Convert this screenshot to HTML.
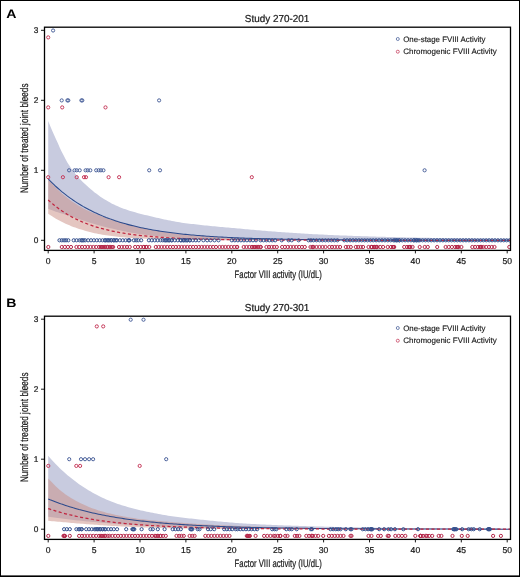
<!DOCTYPE html>
<html><head><meta charset="utf-8"><style>html,body{margin:0;padding:0;background:#fff;}svg{display:block;will-change:transform;}</style></head>
<body><svg width="520" height="577" viewBox="0 0 520 577" font-family='"Liberation Sans", sans-serif' style="text-rendering:geometricPrecision">
<style>.qb{fill:none;stroke:#34508e;stroke-width:1.0px}.qr{fill:none;stroke:#b52a4c;stroke-width:1.0px}.pb{fill:none;stroke:#465d98;stroke-width:0.95px}.pr{fill:none;stroke:#c43556;stroke-width:0.95px}.tl{fill:#1a1a1a;stroke:#1a1a1a;stroke-width:0.14px}.t{fill:#1a1a1a;stroke:#1a1a1a;stroke-width:0.22px}</style>
<rect x="0" y="0" width="520" height="577" fill="#fff"/>
<clipPath id="clipA"><rect x="44.5" y="27.2" width="466.0" height="223.20000000000002"/></clipPath>
<g clip-path="url(#clipA)">
<path d="M48.2,121.00 L50.1,125.81 L52.1,130.40 L54.0,134.75 L55.9,138.98 L57.9,143.31 L59.8,147.66 L61.7,151.67 L63.7,155.39 L65.6,159.14 L67.5,162.70 L69.5,165.82 L71.4,168.70 L73.3,171.39 L75.3,173.83 L77.2,176.04 L79.1,178.16 L81.1,180.20 L83.0,182.16 L85.0,184.05 L86.9,185.87 L88.8,187.60 L90.8,189.26 L92.7,190.85 L94.6,192.39 L96.6,193.87 L98.5,195.29 L100.4,196.64 L102.4,197.94 L104.3,199.18 L106.2,200.37 L108.2,201.51 L110.1,202.60 L112.0,203.64 L114.0,204.60 L115.9,205.51 L117.8,206.37 L119.8,207.19 L121.7,207.97 L123.6,208.69 L125.6,209.37 L127.5,210.01 L129.4,210.63 L131.4,211.24 L133.3,211.82 L135.2,212.37 L137.2,212.90 L139.1,213.41 L141.0,213.91 L143.0,214.40 L144.9,214.88 L146.8,215.35 L148.8,215.82 L150.7,216.28 L152.7,216.74 L154.6,217.20 L156.5,217.66 L158.5,218.11 L160.4,218.55 L162.3,218.98 L164.3,219.40 L166.2,219.82 L168.1,220.22 L170.1,220.60 L172.0,220.98 L173.9,221.34 L175.9,221.69 L177.8,222.02 L179.7,222.34 L181.7,222.64 L183.6,222.92 L185.5,223.18 L187.5,223.43 L189.4,223.67 L191.3,223.90 L193.3,224.12 L195.2,224.34 L197.1,224.56 L199.1,224.77 L201.0,224.99 L202.9,225.20 L204.9,225.40 L206.8,225.60 L208.7,225.80 L210.7,225.99 L212.6,226.17 L214.6,226.35 L216.5,226.53 L218.4,226.71 L220.4,226.89 L222.3,227.06 L224.2,227.23 L226.2,227.41 L228.1,227.58 L230.0,227.75 L232.0,227.92 L233.9,228.09 L235.8,228.27 L237.8,228.44 L239.7,228.61 L241.6,228.79 L243.6,228.97 L245.5,229.14 L247.4,229.31 L249.4,229.49 L251.3,229.66 L253.2,229.83 L255.2,230.00 L257.1,230.16 L259.0,230.33 L261.0,230.49 L262.9,230.66 L264.8,230.82 L266.8,230.97 L268.7,231.13 L270.6,231.29 L272.6,231.44 L274.5,231.59 L276.4,231.74 L278.4,231.88 L280.3,232.03 L282.3,232.17 L284.2,232.31 L286.1,232.45 L288.1,232.58 L290.0,232.72 L291.9,232.85 L293.9,232.97 L295.8,233.10 L297.7,233.22 L299.7,233.35 L301.6,233.46 L303.5,233.58 L305.5,233.69 L307.4,233.81 L309.3,233.92 L311.3,234.02 L313.2,234.13 L315.1,234.23 L317.1,234.33 L319.0,234.43 L320.9,234.52 L322.9,234.62 L324.8,234.71 L326.7,234.80 L328.7,234.89 L330.6,234.97 L332.5,235.06 L334.5,235.14 L336.4,235.22 L338.3,235.30 L340.3,235.38 L342.2,235.46 L344.1,235.54 L346.1,235.61 L348.0,235.68 L350.0,235.76 L351.9,235.83 L353.8,235.90 L355.8,235.97 L357.7,236.03 L359.6,236.10 L361.6,236.17 L363.5,236.23 L365.4,236.29 L367.4,236.36 L369.3,236.42 L371.2,236.48 L373.2,236.54 L375.1,236.59 L377.0,236.65 L379.0,236.71 L380.9,236.76 L382.8,236.81 L384.8,236.87 L386.7,236.92 L388.6,236.97 L390.6,237.02 L392.5,237.07 L394.4,237.12 L396.4,237.17 L398.3,237.21 L400.2,237.26 L402.2,237.31 L404.1,237.35 L406.0,237.40 L408.0,237.44 L409.9,237.48 L411.9,237.52 L413.8,237.56 L415.7,237.60 L417.7,237.64 L419.6,237.68 L421.5,237.72 L423.5,237.76 L425.4,237.80 L427.3,237.84 L429.3,237.87 L431.2,237.91 L433.1,237.95 L435.1,237.98 L437.0,238.02 L438.9,238.06 L440.9,238.09 L442.8,238.12 L444.7,238.16 L446.7,238.19 L448.6,238.22 L450.5,238.25 L452.5,238.29 L454.4,238.32 L456.3,238.35 L458.3,238.38 L460.2,238.41 L462.1,238.44 L464.1,238.46 L466.0,238.49 L467.9,238.52 L469.9,238.55 L471.8,238.57 L473.7,238.60 L475.7,238.63 L477.6,238.65 L479.6,238.68 L481.5,238.70 L483.4,238.73 L485.4,238.75 L487.3,238.78 L489.2,238.80 L491.2,238.82 L493.1,238.84 L495.0,238.87 L497.0,238.89 L498.9,238.91 L500.8,238.93 L502.8,238.95 L504.7,238.97 L506.6,238.99 L508.6,239.01 L510.5,239.03 L510.5,240.30 L508.6,240.30 L506.6,240.30 L504.7,240.30 L502.8,240.30 L500.8,240.30 L498.9,240.30 L497.0,240.30 L495.0,240.30 L493.1,240.30 L491.2,240.30 L489.2,240.30 L487.3,240.30 L485.4,240.30 L483.4,240.30 L481.5,240.30 L479.6,240.30 L477.6,240.30 L475.7,240.30 L473.7,240.30 L471.8,240.30 L469.9,240.30 L467.9,240.30 L466.0,240.30 L464.1,240.30 L462.1,240.30 L460.2,240.30 L458.3,240.30 L456.3,240.30 L454.4,240.30 L452.5,240.30 L450.5,240.30 L448.6,240.30 L446.7,240.30 L444.7,240.30 L442.8,240.30 L440.9,240.30 L438.9,240.30 L437.0,240.30 L435.1,240.30 L433.1,240.30 L431.2,240.30 L429.3,240.30 L427.3,240.30 L425.4,240.30 L423.5,240.30 L421.5,240.30 L419.6,240.30 L417.7,240.30 L415.7,240.29 L413.8,240.29 L411.9,240.29 L409.9,240.29 L408.0,240.29 L406.0,240.29 L404.1,240.29 L402.2,240.29 L400.2,240.29 L398.3,240.29 L396.4,240.29 L394.4,240.29 L392.5,240.29 L390.6,240.29 L388.6,240.29 L386.7,240.29 L384.8,240.29 L382.8,240.29 L380.9,240.29 L379.0,240.29 L377.0,240.29 L375.1,240.28 L373.2,240.28 L371.2,240.28 L369.3,240.28 L367.4,240.28 L365.4,240.28 L363.5,240.28 L361.6,240.28 L359.6,240.28 L357.7,240.28 L355.8,240.28 L353.8,240.27 L351.9,240.27 L350.0,240.27 L348.0,240.27 L346.1,240.27 L344.1,240.27 L342.2,240.26 L340.3,240.26 L338.3,240.26 L336.4,240.26 L334.5,240.26 L332.5,240.25 L330.6,240.25 L328.7,240.25 L326.7,240.25 L324.8,240.24 L322.9,240.24 L320.9,240.24 L319.0,240.24 L317.1,240.23 L315.1,240.23 L313.2,240.23 L311.3,240.22 L309.3,240.22 L307.4,240.21 L305.5,240.21 L303.5,240.20 L301.6,240.20 L299.7,240.20 L297.7,240.19 L295.8,240.18 L293.9,240.18 L291.9,240.17 L290.0,240.17 L288.1,240.16 L286.1,240.15 L284.2,240.15 L282.3,240.14 L280.3,240.13 L278.4,240.12 L276.4,240.11 L274.5,240.10 L272.6,240.09 L270.6,240.08 L268.7,240.07 L266.8,240.06 L264.8,240.05 L262.9,240.04 L261.0,240.02 L259.0,240.01 L257.1,239.99 L255.2,239.98 L253.2,239.96 L251.3,239.95 L249.4,239.93 L247.4,239.91 L245.5,239.89 L243.6,239.87 L241.6,239.84 L239.7,239.82 L237.8,239.80 L235.8,239.77 L233.9,239.74 L232.0,239.71 L230.0,239.68 L228.1,239.65 L226.2,239.61 L224.2,239.58 L222.3,239.54 L220.4,239.49 L218.4,239.45 L216.5,239.40 L214.6,239.36 L212.6,239.31 L210.7,239.25 L208.7,239.19 L206.8,239.14 L204.9,239.07 L202.9,239.01 L201.0,238.94 L199.1,238.87 L197.1,238.79 L195.2,238.71 L193.3,238.62 L191.3,238.53 L189.4,238.44 L187.5,238.34 L185.5,238.24 L183.6,238.13 L181.7,238.02 L179.7,237.91 L177.8,237.79 L175.9,237.67 L173.9,237.54 L172.0,237.41 L170.1,237.27 L168.1,237.12 L166.2,236.97 L164.3,236.82 L162.3,236.65 L160.4,236.48 L158.5,236.31 L156.5,236.12 L154.6,235.92 L152.7,235.72 L150.7,235.50 L148.8,235.27 L146.8,235.03 L144.9,234.78 L143.0,234.51 L141.0,234.23 L139.1,233.94 L137.2,233.63 L135.2,233.31 L133.3,232.98 L131.4,232.64 L129.4,232.29 L127.5,231.92 L125.6,231.54 L123.6,231.14 L121.7,230.74 L119.8,230.33 L117.8,229.91 L115.9,229.47 L114.0,229.03 L112.0,228.58 L110.1,228.13 L108.2,227.67 L106.2,227.20 L104.3,226.71 L102.4,226.21 L100.4,225.70 L98.5,225.17 L96.6,224.64 L94.6,224.09 L92.7,223.53 L90.8,222.95 L88.8,222.35 L86.9,221.74 L85.0,221.12 L83.0,220.48 L81.1,219.83 L79.1,219.15 L77.2,218.46 L75.3,217.75 L73.3,217.07 L71.4,216.42 L69.5,215.78 L67.5,215.17 L65.6,214.64 L63.7,214.11 L61.7,213.50 L59.8,212.92 L57.9,212.37 L55.9,211.74 L54.0,211.02 L52.1,210.27 L50.1,209.52 L48.2,208.75 Z" fill="#c8cbdf"/>
<path d="M48.2,178.99 L50.1,181.37 L52.1,183.63 L54.0,185.77 L55.9,187.80 L57.9,189.73 L59.8,191.57 L61.7,193.32 L63.7,194.99 L65.6,196.58 L67.5,198.10 L69.5,199.55 L71.4,200.94 L73.3,202.28 L75.3,203.55 L77.2,204.78 L79.1,205.96 L81.1,207.09 L83.0,208.19 L85.0,209.23 L86.9,210.21 L88.8,211.11 L90.8,211.97 L92.7,212.78 L94.6,213.57 L96.6,214.33 L98.5,215.08 L100.4,215.83 L102.4,216.55 L104.3,217.26 L106.2,217.94 L108.2,218.60 L110.1,219.24 L112.0,219.86 L114.0,220.47 L115.9,221.07 L117.8,221.65 L119.8,222.22 L121.7,222.78 L123.6,223.32 L125.6,223.86 L127.5,224.39 L129.4,224.90 L131.4,225.40 L133.3,225.88 L135.2,226.35 L137.2,226.81 L139.1,227.26 L141.0,227.69 L143.0,228.12 L144.9,228.53 L146.8,228.93 L148.8,229.32 L150.7,229.69 L152.7,230.05 L154.6,230.39 L156.5,230.72 L158.5,231.04 L160.4,231.34 L162.3,231.64 L164.3,231.93 L166.2,232.21 L168.1,232.48 L170.1,232.74 L172.0,232.99 L173.9,233.23 L175.9,233.47 L177.8,233.70 L179.7,233.92 L181.7,234.13 L183.6,234.33 L185.5,234.53 L187.5,234.73 L189.4,234.91 L191.3,235.09 L193.3,235.26 L195.2,235.43 L197.1,235.59 L199.1,235.75 L201.0,235.90 L202.9,236.05 L204.9,236.19 L206.8,236.33 L208.7,236.46 L210.7,236.59 L212.6,236.71 L214.6,236.83 L216.5,236.95 L218.4,237.06 L220.4,237.16 L222.3,237.27 L224.2,237.37 L226.2,237.47 L228.1,237.56 L230.0,237.65 L232.0,237.74 L233.9,237.83 L235.8,237.91 L237.8,237.99 L239.7,238.07 L241.6,238.14 L243.6,238.21 L245.5,238.28 L247.4,238.35 L249.4,238.41 L251.3,238.48 L253.2,238.54 L255.2,238.60 L257.1,238.65 L259.0,238.71 L261.0,238.76 L262.9,238.81 L264.8,238.86 L266.8,238.91 L268.7,238.96 L270.6,239.00 L272.6,239.04 L274.5,239.09 L276.4,239.13 L278.4,239.16 L280.3,239.20 L282.3,239.24 L284.2,239.27 L286.1,239.31 L288.1,239.34 L290.0,239.37 L291.9,239.40 L293.9,239.43 L295.8,239.46 L297.7,239.49 L299.7,239.52 L301.6,239.54 L303.5,239.57 L305.5,239.59 L307.4,239.62 L309.3,239.64 L311.3,239.66 L313.2,239.68 L315.1,239.70 L317.1,239.72 L319.0,239.74 L320.9,239.76 L322.9,239.78 L324.8,239.80 L326.7,239.81 L328.7,239.83 L330.6,239.84 L332.5,239.86 L334.5,239.87 L336.4,239.89 L338.3,239.90 L340.3,239.92 L342.2,239.93 L344.1,239.94 L346.1,239.95 L348.0,239.96 L350.0,239.98 L351.9,239.99 L353.8,240.00 L355.8,240.01 L357.7,240.02 L359.6,240.03 L361.6,240.04 L363.5,240.04 L365.4,240.05 L367.4,240.06 L369.3,240.07 L371.2,240.08 L373.2,240.08 L375.1,240.09 L377.0,240.10 L379.0,240.10 L380.9,240.11 L382.8,240.12 L384.8,240.12 L386.7,240.13 L388.6,240.14 L390.6,240.14 L392.5,240.15 L394.4,240.15 L396.4,240.16 L398.3,240.16 L400.2,240.17 L402.2,240.17 L404.1,240.17 L406.0,240.18 L408.0,240.18 L409.9,240.19 L411.9,240.19 L413.8,240.19 L415.7,240.20 L417.7,240.20 L419.6,240.20 L421.5,240.21 L423.5,240.21 L425.4,240.21 L427.3,240.22 L429.3,240.22 L431.2,240.22 L433.1,240.22 L435.1,240.23 L437.0,240.23 L438.9,240.23 L440.9,240.23 L442.8,240.24 L444.7,240.24 L446.7,240.24 L448.6,240.24 L450.5,240.24 L452.5,240.25 L454.4,240.25 L456.3,240.25 L458.3,240.25 L460.2,240.25 L462.1,240.25 L464.1,240.26 L466.0,240.26 L467.9,240.26 L469.9,240.26 L471.8,240.26 L473.7,240.26 L475.7,240.26 L477.6,240.27 L479.6,240.27 L481.5,240.27 L483.4,240.27 L485.4,240.27 L487.3,240.27 L489.2,240.27 L491.2,240.27 L493.1,240.27 L495.0,240.27 L497.0,240.28 L498.9,240.28 L500.8,240.28 L502.8,240.28 L504.7,240.28 L506.6,240.28 L508.6,240.28 L510.5,240.28 L510.5,240.30 L508.6,240.30 L506.6,240.30 L504.7,240.30 L502.8,240.30 L500.8,240.30 L498.9,240.30 L497.0,240.30 L495.0,240.30 L493.1,240.30 L491.2,240.30 L489.2,240.30 L487.3,240.30 L485.4,240.30 L483.4,240.30 L481.5,240.30 L479.6,240.30 L477.6,240.30 L475.7,240.30 L473.7,240.30 L471.8,240.30 L469.9,240.30 L467.9,240.30 L466.0,240.30 L464.1,240.30 L462.1,240.30 L460.2,240.30 L458.3,240.30 L456.3,240.30 L454.4,240.30 L452.5,240.30 L450.5,240.30 L448.6,240.30 L446.7,240.30 L444.7,240.30 L442.8,240.30 L440.9,240.30 L438.9,240.30 L437.0,240.30 L435.1,240.30 L433.1,240.30 L431.2,240.30 L429.3,240.30 L427.3,240.30 L425.4,240.30 L423.5,240.30 L421.5,240.30 L419.6,240.30 L417.7,240.30 L415.7,240.30 L413.8,240.30 L411.9,240.30 L409.9,240.30 L408.0,240.30 L406.0,240.30 L404.1,240.30 L402.2,240.30 L400.2,240.30 L398.3,240.30 L396.4,240.30 L394.4,240.30 L392.5,240.30 L390.6,240.30 L388.6,240.30 L386.7,240.30 L384.8,240.30 L382.8,240.30 L380.9,240.30 L379.0,240.30 L377.0,240.30 L375.1,240.30 L373.2,240.30 L371.2,240.30 L369.3,240.30 L367.4,240.30 L365.4,240.30 L363.5,240.30 L361.6,240.30 L359.6,240.30 L357.7,240.30 L355.8,240.30 L353.8,240.30 L351.9,240.30 L350.0,240.30 L348.0,240.30 L346.1,240.29 L344.1,240.29 L342.2,240.29 L340.3,240.29 L338.3,240.29 L336.4,240.29 L334.5,240.29 L332.5,240.29 L330.6,240.29 L328.7,240.29 L326.7,240.29 L324.8,240.29 L322.9,240.29 L320.9,240.29 L319.0,240.29 L317.1,240.29 L315.1,240.29 L313.2,240.29 L311.3,240.29 L309.3,240.29 L307.4,240.28 L305.5,240.28 L303.5,240.28 L301.6,240.28 L299.7,240.28 L297.7,240.28 L295.8,240.28 L293.9,240.28 L291.9,240.28 L290.0,240.27 L288.1,240.27 L286.1,240.27 L284.2,240.27 L282.3,240.27 L280.3,240.27 L278.4,240.26 L276.4,240.26 L274.5,240.26 L272.6,240.26 L270.6,240.26 L268.7,240.25 L266.8,240.25 L264.8,240.25 L262.9,240.24 L261.0,240.24 L259.0,240.24 L257.1,240.23 L255.2,240.23 L253.2,240.23 L251.3,240.22 L249.4,240.22 L247.4,240.21 L245.5,240.21 L243.6,240.20 L241.6,240.20 L239.7,240.19 L237.8,240.19 L235.8,240.18 L233.9,240.17 L232.0,240.16 L230.0,240.16 L228.1,240.15 L226.2,240.14 L224.2,240.13 L222.3,240.12 L220.4,240.11 L218.4,240.10 L216.5,240.09 L214.6,240.08 L212.6,240.07 L210.7,240.05 L208.7,240.04 L206.8,240.02 L204.9,240.01 L202.9,239.99 L201.0,239.97 L199.1,239.96 L197.1,239.94 L195.2,239.91 L193.3,239.89 L191.3,239.87 L189.4,239.85 L187.5,239.82 L185.5,239.79 L183.6,239.76 L181.7,239.73 L179.7,239.70 L177.8,239.67 L175.9,239.63 L173.9,239.59 L172.0,239.55 L170.1,239.51 L168.1,239.47 L166.2,239.42 L164.3,239.37 L162.3,239.32 L160.4,239.26 L158.5,239.20 L156.5,239.14 L154.6,239.07 L152.7,239.01 L150.7,238.93 L148.8,238.86 L146.8,238.77 L144.9,238.69 L143.0,238.60 L141.0,238.50 L139.1,238.40 L137.2,238.29 L135.2,238.18 L133.3,238.06 L131.4,237.93 L129.4,237.79 L127.5,237.65 L125.6,237.49 L123.6,237.33 L121.7,237.15 L119.8,236.97 L117.8,236.77 L115.9,236.56 L114.0,236.33 L112.0,236.09 L110.1,235.83 L108.2,235.56 L106.2,235.27 L104.3,234.97 L102.4,234.65 L100.4,234.30 L98.5,233.94 L96.6,233.55 L94.6,233.13 L92.7,232.69 L90.8,232.22 L88.8,231.72 L86.9,231.21 L85.0,230.67 L83.0,230.12 L81.1,229.54 L79.1,228.92 L77.2,228.28 L75.3,227.60 L73.3,226.88 L71.4,226.13 L69.5,225.34 L67.5,224.51 L65.6,223.64 L63.7,222.73 L61.7,221.78 L59.8,220.78 L57.9,219.74 L55.9,218.65 L54.0,217.52 L52.1,216.34 L50.1,215.11 L48.2,213.83 Z" fill="#c98d83" fill-opacity="0.5"/>
<path d="M48.2,178.95 L50.1,180.93 L52.1,182.85 L54.0,184.71 L55.9,186.51 L57.9,188.25 L59.8,189.93 L61.7,191.56 L63.7,193.14 L65.6,194.67 L67.5,196.14 L69.5,197.57 L71.4,198.95 L73.3,200.29 L75.3,201.58 L77.2,202.84 L79.1,204.05 L81.1,205.22 L83.0,206.36 L85.0,207.45 L86.9,208.52 L88.8,209.55 L90.8,210.54 L92.7,211.50 L94.6,212.43 L96.6,213.34 L98.5,214.21 L100.4,215.05 L102.4,215.87 L104.3,216.66 L106.2,217.42 L108.2,218.16 L110.1,218.88 L112.0,219.57 L114.0,220.24 L115.9,220.89 L117.8,221.52 L119.8,222.13 L121.7,222.72 L123.6,223.28 L125.6,223.83 L127.5,224.37 L129.4,224.88 L131.4,225.38 L133.3,225.86 L135.2,226.33 L137.2,226.78 L139.1,227.22 L141.0,227.64 L143.0,228.05 L144.9,228.45 L146.8,228.83 L148.8,229.20 L150.7,229.56 L152.7,229.91 L154.6,230.25 L156.5,230.57 L158.5,230.89 L160.4,231.19 L162.3,231.48 L164.3,231.77 L166.2,232.05 L168.1,232.31 L170.1,232.57 L172.0,232.82 L173.9,233.06 L175.9,233.30 L177.8,233.52 L179.7,233.74 L181.7,233.96 L183.6,234.16 L185.5,234.36 L187.5,234.55 L189.4,234.74 L191.3,234.92 L193.3,235.09 L195.2,235.26 L197.1,235.42 L199.1,235.58 L201.0,235.73 L202.9,235.88 L204.9,236.02 L206.8,236.16 L208.7,236.30 L210.7,236.43 L212.6,236.55 L214.6,236.67 L216.5,236.79 L218.4,236.90 L220.4,237.01 L222.3,237.12 L224.2,237.22 L226.2,237.32 L228.1,237.42 L230.0,237.51 L232.0,237.60 L233.9,237.69 L235.8,237.77 L237.8,237.86 L239.7,237.93 L241.6,238.01 L243.6,238.08 L245.5,238.16 L247.4,238.23 L249.4,238.29 L251.3,238.36 L253.2,238.42 L255.2,238.48 L257.1,238.54 L259.0,238.60 L261.0,238.65 L262.9,238.71 L264.8,238.76 L266.8,238.81 L268.7,238.86 L270.6,238.90 L272.6,238.95 L274.5,238.99 L276.4,239.03 L278.4,239.07 L280.3,239.11 L282.3,239.15 L284.2,239.19 L286.1,239.23 L288.1,239.26 L290.0,239.29 L291.9,239.33 L293.9,239.36 L295.8,239.39 L297.7,239.42 L299.7,239.45 L301.6,239.47 L303.5,239.50 L305.5,239.53 L307.4,239.55 L309.3,239.58 L311.3,239.60 L313.2,239.62 L315.1,239.64 L317.1,239.67 L319.0,239.69 L320.9,239.71 L322.9,239.72 L324.8,239.74 L326.7,239.76 L328.7,239.78 L330.6,239.80 L332.5,239.81 L334.5,239.83 L336.4,239.84 L338.3,239.86 L340.3,239.87 L342.2,239.89 L344.1,239.90 L346.1,239.91 L348.0,239.92 L350.0,239.94 L351.9,239.95 L353.8,239.96 L355.8,239.97 L357.7,239.98 L359.6,239.99 L361.6,240.00 L363.5,240.01 L365.4,240.02 L367.4,240.03 L369.3,240.04 L371.2,240.05 L373.2,240.06 L375.1,240.06 L377.0,240.07 L379.0,240.08 L380.9,240.09 L382.8,240.09 L384.8,240.10 L386.7,240.11 L388.6,240.11 L390.6,240.12 L392.5,240.12 L394.4,240.13 L396.4,240.14 L398.3,240.14 L400.2,240.15 L402.2,240.15 L404.1,240.16 L406.0,240.16 L408.0,240.16 L409.9,240.17 L411.9,240.17 L413.8,240.18 L415.7,240.18 L417.7,240.19 L419.6,240.19 L421.5,240.19 L423.5,240.20 L425.4,240.20 L427.3,240.20 L429.3,240.21 L431.2,240.21 L433.1,240.21 L435.1,240.21 L437.0,240.22 L438.9,240.22 L440.9,240.22 L442.8,240.23 L444.7,240.23 L446.7,240.23 L448.6,240.23 L450.5,240.23 L452.5,240.24 L454.4,240.24 L456.3,240.24 L458.3,240.24 L460.2,240.24 L462.1,240.25 L464.1,240.25 L466.0,240.25 L467.9,240.25 L469.9,240.25 L471.8,240.25 L473.7,240.26 L475.7,240.26 L477.6,240.26 L479.6,240.26 L481.5,240.26 L483.4,240.26 L485.4,240.26 L487.3,240.26 L489.2,240.27 L491.2,240.27 L493.1,240.27 L495.0,240.27 L497.0,240.27 L498.9,240.27 L500.8,240.27 L502.8,240.27 L504.7,240.27 L506.6,240.27 L508.6,240.28 L510.5,240.28" fill="none" stroke="#2c4a8c" stroke-width="1.05"/>
<path d="M48.2,200.02 L50.1,201.77 L52.1,203.45 L54.0,205.05 L55.9,206.59 L57.9,208.05 L59.8,209.46 L61.7,210.80 L63.7,212.08 L65.6,213.31 L67.5,214.49 L69.5,215.61 L71.4,216.68 L73.3,217.71 L75.3,218.69 L77.2,219.63 L79.1,220.53 L81.1,221.39 L83.0,222.22 L85.0,223.00 L86.9,223.76 L88.8,224.48 L90.8,225.17 L92.7,225.82 L94.6,226.45 L96.6,227.06 L98.5,227.63 L100.4,228.18 L102.4,228.71 L104.3,229.22 L106.2,229.70 L108.2,230.16 L110.1,230.60 L112.0,231.02 L114.0,231.43 L115.9,231.81 L117.8,232.18 L119.8,232.54 L121.7,232.87 L123.6,233.20 L125.6,233.51 L127.5,233.80 L129.4,234.08 L131.4,234.36 L133.3,234.61 L135.2,234.86 L137.2,235.10 L139.1,235.32 L141.0,235.54 L143.0,235.75 L144.9,235.95 L146.8,236.14 L148.8,236.32 L150.7,236.49 L152.7,236.66 L154.6,236.81 L156.5,236.97 L158.5,237.11 L160.4,237.25 L162.3,237.38 L164.3,237.51 L166.2,237.63 L168.1,237.75 L170.1,237.86 L172.0,237.96 L173.9,238.07 L175.9,238.16 L177.8,238.26 L179.7,238.35 L181.7,238.43 L183.6,238.51 L185.5,238.59 L187.5,238.66 L189.4,238.74 L191.3,238.80 L193.3,238.87 L195.2,238.93 L197.1,238.99 L199.1,239.05 L201.0,239.10 L202.9,239.15 L204.9,239.20 L206.8,239.25 L208.7,239.30 L210.7,239.34 L212.6,239.38 L214.6,239.42 L216.5,239.46 L218.4,239.50 L220.4,239.53 L222.3,239.57 L224.2,239.60 L226.2,239.63 L228.1,239.66 L230.0,239.69 L232.0,239.71 L233.9,239.74 L235.8,239.76 L237.8,239.79 L239.7,239.81 L241.6,239.83 L243.6,239.85 L245.5,239.87 L247.4,239.89 L249.4,239.91 L251.3,239.92 L253.2,239.94 L255.2,239.96 L257.1,239.97 L259.0,239.98 L261.0,240.00 L262.9,240.01 L264.8,240.02 L266.8,240.04 L268.7,240.05 L270.6,240.06 L272.6,240.07 L274.5,240.08 L276.4,240.09 L278.4,240.10 L280.3,240.11 L282.3,240.12 L284.2,240.12 L286.1,240.13 L288.1,240.14 L290.0,240.15 L291.9,240.15 L293.9,240.16 L295.8,240.16 L297.7,240.17 L299.7,240.18 L301.6,240.18 L303.5,240.19 L305.5,240.19 L307.4,240.20 L309.3,240.20 L311.3,240.21 L313.2,240.21 L315.1,240.21 L317.1,240.22 L319.0,240.22 L320.9,240.22 L322.9,240.23 L324.8,240.23 L326.7,240.23 L328.7,240.24 L330.6,240.24 L332.5,240.24 L334.5,240.24 L336.4,240.25 L338.3,240.25 L340.3,240.25 L342.2,240.25 L344.1,240.26 L346.1,240.26 L348.0,240.26 L350.0,240.26 L351.9,240.26 L353.8,240.26 L355.8,240.27 L357.7,240.27 L359.6,240.27 L361.6,240.27 L363.5,240.27 L365.4,240.27 L367.4,240.27 L369.3,240.28 L371.2,240.28 L373.2,240.28 L375.1,240.28 L377.0,240.28 L379.0,240.28 L380.9,240.28 L382.8,240.28 L384.8,240.28 L386.7,240.28 L388.6,240.28 L390.6,240.28 L392.5,240.29 L394.4,240.29 L396.4,240.29 L398.3,240.29 L400.2,240.29 L402.2,240.29 L404.1,240.29 L406.0,240.29 L408.0,240.29 L409.9,240.29 L411.9,240.29 L413.8,240.29 L415.7,240.29 L417.7,240.29 L419.6,240.29 L421.5,240.29 L423.5,240.29 L425.4,240.29 L427.3,240.29 L429.3,240.29 L431.2,240.29 L433.1,240.29 L435.1,240.29 L437.0,240.29 L438.9,240.29 L440.9,240.30 L442.8,240.30 L444.7,240.30 L446.7,240.30 L448.6,240.30 L450.5,240.30 L452.5,240.30 L454.4,240.30 L456.3,240.30 L458.3,240.30 L460.2,240.30 L462.1,240.30 L464.1,240.30 L466.0,240.30 L467.9,240.30 L469.9,240.30 L471.8,240.30 L473.7,240.30 L475.7,240.30 L477.6,240.30 L479.6,240.30 L481.5,240.30 L483.4,240.30 L485.4,240.30 L487.3,240.30 L489.2,240.30 L491.2,240.30 L493.1,240.30 L495.0,240.30 L497.0,240.30 L498.9,240.30 L500.8,240.30 L502.8,240.30 L504.7,240.30 L506.6,240.30 L508.6,240.30 L510.5,240.30" fill="none" stroke="#c0253f" stroke-width="1.25" stroke-dasharray="3.1 2.4"/>
<circle class="qb" cx="59.5" cy="240.3" r="1.6"/>
<circle class="qb" cx="61.8" cy="240.3" r="1.6"/>
<circle class="qb" cx="64.1" cy="240.3" r="1.6"/>
<circle class="qb" cx="66.0" cy="240.3" r="1.6"/>
<circle class="qb" cx="68.3" cy="240.3" r="1.6"/>
<circle class="qb" cx="73.7" cy="240.3" r="1.6"/>
<circle class="qb" cx="76.58" cy="240.3" r="1.6"/>
<circle class="qb" cx="79.47" cy="240.3" r="1.6"/>
<circle class="qb" cx="82.35" cy="240.3" r="1.6"/>
<circle class="qb" cx="85.24" cy="240.3" r="1.6"/>
<circle class="qb" cx="88.12" cy="240.3" r="1.6"/>
<circle class="qb" cx="91.01" cy="240.3" r="1.6"/>
<circle class="qb" cx="93.89" cy="240.3" r="1.6"/>
<circle class="qb" cx="96.77" cy="240.3" r="1.6"/>
<circle class="qb" cx="99.66" cy="240.3" r="1.6"/>
<circle class="qb" cx="102.54" cy="240.3" r="1.6"/>
<circle class="qb" cx="105.43" cy="240.3" r="1.6"/>
<circle class="qb" cx="108.31" cy="240.3" r="1.6"/>
<circle class="qb" cx="111.19" cy="240.3" r="1.6"/>
<circle class="qb" cx="114.08" cy="240.3" r="1.6"/>
<circle class="qb" cx="116.96" cy="240.3" r="1.6"/>
<circle class="qb" cx="119.85" cy="240.3" r="1.6"/>
<circle class="qb" cx="122.73" cy="240.3" r="1.6"/>
<circle class="qb" cx="125.62" cy="240.3" r="1.6"/>
<circle class="qb" cx="128.5" cy="240.3" r="1.6"/>
<circle class="qb" cx="129.5" cy="240.3" r="1.6"/>
<circle class="qb" cx="133.9" cy="240.3" r="1.6"/>
<circle class="qb" cx="136.2" cy="240.3" r="1.6"/>
<circle class="qb" cx="138.2" cy="240.3" r="1.6"/>
<circle class="qb" cx="141.2" cy="240.3" r="1.6"/>
<circle class="qb" cx="148.9" cy="240.3" r="1.6"/>
<circle class="qb" cx="151.8" cy="240.3" r="1.6"/>
<circle class="qb" cx="154.7" cy="240.3" r="1.6"/>
<circle class="qb" cx="157.6" cy="240.3" r="1.6"/>
<circle class="qb" cx="160.5" cy="240.3" r="1.6"/>
<circle class="qb" cx="162.8" cy="240.3" r="1.6"/>
<circle class="qb" cx="165.8" cy="240.3" r="1.6"/>
<circle class="qb" cx="168.8" cy="240.3" r="1.6"/>
<circle class="qb" cx="171.8" cy="240.3" r="1.6"/>
<circle class="qb" cx="174.8" cy="240.3" r="1.6"/>
<circle class="qb" cx="177.8" cy="240.3" r="1.6"/>
<circle class="qb" cx="180.8" cy="240.3" r="1.6"/>
<circle class="qb" cx="183.8" cy="240.3" r="1.6"/>
<circle class="qb" cx="186.8" cy="240.3" r="1.6"/>
<circle class="qb" cx="189.8" cy="240.3" r="1.6"/>
<circle class="qb" cx="192.8" cy="240.3" r="1.6"/>
<circle class="qb" cx="195.8" cy="240.3" r="1.6"/>
<circle class="qb" cx="198.8" cy="240.3" r="1.6"/>
<circle class="qb" cx="203.4" cy="240.3" r="1.6"/>
<circle class="qb" cx="207.2" cy="240.3" r="1.6"/>
<circle class="qb" cx="210.5" cy="240.3" r="1.6"/>
<circle class="qb" cx="214.5" cy="240.3" r="1.6"/>
<circle class="qb" cx="218.5" cy="240.3" r="1.6"/>
<circle class="qb" cx="231.8" cy="240.3" r="1.6"/>
<circle class="qb" cx="234.83" cy="240.3" r="1.6"/>
<circle class="qb" cx="237.85" cy="240.3" r="1.6"/>
<circle class="qb" cx="240.88" cy="240.3" r="1.6"/>
<circle class="qb" cx="243.9" cy="240.3" r="1.6"/>
<circle class="qb" cx="246.93" cy="240.3" r="1.6"/>
<circle class="qb" cx="249.95" cy="240.3" r="1.6"/>
<circle class="qb" cx="252.97" cy="240.3" r="1.6"/>
<circle class="qb" cx="256.0" cy="240.3" r="1.6"/>
<circle class="qb" cx="260.6" cy="240.3" r="1.6"/>
<circle class="qb" cx="263.52" cy="240.3" r="1.6"/>
<circle class="qb" cx="266.44" cy="240.3" r="1.6"/>
<circle class="qb" cx="269.36" cy="240.3" r="1.6"/>
<circle class="qb" cx="272.28" cy="240.3" r="1.6"/>
<circle class="qb" cx="275.2" cy="240.3" r="1.6"/>
<circle class="qb" cx="281.7" cy="240.3" r="1.6"/>
<circle class="qb" cx="288.6" cy="240.3" r="1.6"/>
<circle class="qb" cx="291.7" cy="240.3" r="1.6"/>
<circle class="qb" cx="298.6" cy="240.3" r="1.6"/>
<circle class="qb" cx="308.6" cy="240.3" r="1.6"/>
<circle class="qb" cx="310.9" cy="240.3" r="1.6"/>
<circle class="qb" cx="313.5" cy="240.3" r="1.6"/>
<circle class="qb" cx="316.49" cy="240.3" r="1.6"/>
<circle class="qb" cx="319.48" cy="240.3" r="1.6"/>
<circle class="qb" cx="322.46" cy="240.3" r="1.6"/>
<circle class="qb" cx="325.45" cy="240.3" r="1.6"/>
<circle class="qb" cx="328.44" cy="240.3" r="1.6"/>
<circle class="qb" cx="331.42" cy="240.3" r="1.6"/>
<circle class="qb" cx="334.41" cy="240.3" r="1.6"/>
<circle class="qb" cx="337.4" cy="240.3" r="1.6"/>
<circle class="qb" cx="344.3" cy="240.3" r="1.6"/>
<circle class="qb" cx="347.2" cy="240.3" r="1.6"/>
<circle class="qb" cx="350.1" cy="240.3" r="1.6"/>
<circle class="qb" cx="352.99" cy="240.3" r="1.6"/>
<circle class="qb" cx="355.89" cy="240.3" r="1.6"/>
<circle class="qb" cx="358.79" cy="240.3" r="1.6"/>
<circle class="qb" cx="361.69" cy="240.3" r="1.6"/>
<circle class="qb" cx="364.59" cy="240.3" r="1.6"/>
<circle class="qb" cx="367.49" cy="240.3" r="1.6"/>
<circle class="qb" cx="370.38" cy="240.3" r="1.6"/>
<circle class="qb" cx="373.28" cy="240.3" r="1.6"/>
<circle class="qb" cx="376.18" cy="240.3" r="1.6"/>
<circle class="qb" cx="379.08" cy="240.3" r="1.6"/>
<circle class="qb" cx="381.98" cy="240.3" r="1.6"/>
<circle class="qb" cx="384.88" cy="240.3" r="1.6"/>
<circle class="qb" cx="387.77" cy="240.3" r="1.6"/>
<circle class="qb" cx="390.67" cy="240.3" r="1.6"/>
<circle class="qb" cx="393.57" cy="240.3" r="1.6"/>
<circle class="qb" cx="396.47" cy="240.3" r="1.6"/>
<circle class="qb" cx="399.37" cy="240.3" r="1.6"/>
<circle class="qb" cx="402.26" cy="240.3" r="1.6"/>
<circle class="qb" cx="405.16" cy="240.3" r="1.6"/>
<circle class="qb" cx="408.06" cy="240.3" r="1.6"/>
<circle class="qb" cx="410.96" cy="240.3" r="1.6"/>
<circle class="qb" cx="413.86" cy="240.3" r="1.6"/>
<circle class="qb" cx="416.76" cy="240.3" r="1.6"/>
<circle class="qb" cx="419.65" cy="240.3" r="1.6"/>
<circle class="qb" cx="422.55" cy="240.3" r="1.6"/>
<circle class="qb" cx="425.45" cy="240.3" r="1.6"/>
<circle class="qb" cx="428.35" cy="240.3" r="1.6"/>
<circle class="qb" cx="431.25" cy="240.3" r="1.6"/>
<circle class="qb" cx="434.15" cy="240.3" r="1.6"/>
<circle class="qb" cx="437.04" cy="240.3" r="1.6"/>
<circle class="qb" cx="439.94" cy="240.3" r="1.6"/>
<circle class="qb" cx="442.84" cy="240.3" r="1.6"/>
<circle class="qb" cx="445.74" cy="240.3" r="1.6"/>
<circle class="qb" cx="448.64" cy="240.3" r="1.6"/>
<circle class="qb" cx="451.54" cy="240.3" r="1.6"/>
<circle class="qb" cx="454.43" cy="240.3" r="1.6"/>
<circle class="qb" cx="457.33" cy="240.3" r="1.6"/>
<circle class="qb" cx="460.23" cy="240.3" r="1.6"/>
<circle class="qb" cx="463.13" cy="240.3" r="1.6"/>
<circle class="qb" cx="466.03" cy="240.3" r="1.6"/>
<circle class="qb" cx="468.92" cy="240.3" r="1.6"/>
<circle class="qb" cx="471.82" cy="240.3" r="1.6"/>
<circle class="qb" cx="474.72" cy="240.3" r="1.6"/>
<circle class="qb" cx="477.62" cy="240.3" r="1.6"/>
<circle class="qb" cx="480.52" cy="240.3" r="1.6"/>
<circle class="qb" cx="483.42" cy="240.3" r="1.6"/>
<circle class="qb" cx="486.31" cy="240.3" r="1.6"/>
<circle class="qb" cx="489.21" cy="240.3" r="1.6"/>
<circle class="qb" cx="492.11" cy="240.3" r="1.6"/>
<circle class="qb" cx="495.01" cy="240.3" r="1.6"/>
<circle class="qb" cx="497.91" cy="240.3" r="1.6"/>
<circle class="qb" cx="500.81" cy="240.3" r="1.6"/>
<circle class="qb" cx="503.7" cy="240.3" r="1.6"/>
<circle class="qb" cx="506.6" cy="240.3" r="1.6"/>
<circle class="qb" cx="509.5" cy="240.3" r="1.6"/>
<circle class="pb" cx="53.1" cy="30.5" r="1.6"/>
<circle class="pb" cx="61.7" cy="100.4" r="1.6"/>
<circle class="pb" cx="67.4" cy="100.4" r="1.6"/>
<circle class="pb" cx="68.3" cy="100.4" r="1.6"/>
<circle class="pb" cx="81.4" cy="100.4" r="1.6"/>
<circle class="pb" cx="82.3" cy="100.4" r="1.6"/>
<circle class="pb" cx="159.1" cy="100.4" r="1.6"/>
<circle class="pb" cx="69.1" cy="170.3" r="1.6"/>
<circle class="pb" cx="74.6" cy="170.3" r="1.6"/>
<circle class="pb" cx="76.7" cy="170.3" r="1.6"/>
<circle class="pb" cx="79.7" cy="170.3" r="1.6"/>
<circle class="pb" cx="85.6" cy="170.3" r="1.6"/>
<circle class="pb" cx="87.7" cy="170.3" r="1.6"/>
<circle class="pb" cx="90.3" cy="170.3" r="1.6"/>
<circle class="pb" cx="96.2" cy="170.3" r="1.6"/>
<circle class="pb" cx="98.7" cy="170.3" r="1.6"/>
<circle class="pb" cx="100.9" cy="170.3" r="1.6"/>
<circle class="pb" cx="103.4" cy="170.3" r="1.6"/>
<circle class="pb" cx="149.2" cy="170.3" r="1.6"/>
<circle class="pb" cx="160.0" cy="170.3" r="1.6"/>
<circle class="pb" cx="424.6" cy="170.3" r="1.6"/>
<circle class="qb" cx="81.4" cy="240.3" r="1.6"/>
<circle class="qb" cx="83.6" cy="240.3" r="1.6"/>
<circle class="qb" cx="104.9" cy="240.3" r="1.6"/>
<circle class="qb" cx="107.1" cy="240.3" r="1.6"/>
<circle class="qb" cx="109.3" cy="240.3" r="1.6"/>
<circle class="qb" cx="111.5" cy="240.3" r="1.6"/>
<circle class="qb" cx="113.7" cy="240.3" r="1.6"/>
<circle class="qb" cx="115.9" cy="240.3" r="1.6"/>
<circle class="qb" cx="128.9" cy="240.3" r="1.6"/>
<circle class="qb" cx="164.9" cy="240.3" r="1.6"/>
<circle class="qb" cx="167.1" cy="240.3" r="1.6"/>
<circle class="qb" cx="169.3" cy="240.3" r="1.6"/>
<circle class="qb" cx="171.5" cy="240.3" r="1.6"/>
<circle class="qb" cx="180.9" cy="240.3" r="1.6"/>
<circle class="qb" cx="183.1" cy="240.3" r="1.6"/>
<circle class="qb" cx="185.3" cy="240.3" r="1.6"/>
<circle class="qb" cx="187.5" cy="240.3" r="1.6"/>
<circle class="qb" cx="189.7" cy="240.3" r="1.6"/>
<circle class="qb" cx="394.9" cy="240.3" r="1.6"/>
<circle class="qb" cx="397.1" cy="240.3" r="1.6"/>
<circle class="qb" cx="399.3" cy="240.3" r="1.6"/>
<circle class="qb" cx="413.9" cy="240.3" r="1.6"/>
<circle class="qb" cx="416.1" cy="240.3" r="1.6"/>
<circle class="qb" cx="418.3" cy="240.3" r="1.6"/>
<circle class="qr" cx="48.3" cy="247.0" r="1.6"/>
<circle class="qr" cx="61.8" cy="247.0" r="1.6"/>
<circle class="qr" cx="64.87" cy="247.0" r="1.6"/>
<circle class="qr" cx="67.93" cy="247.0" r="1.6"/>
<circle class="qr" cx="71.0" cy="247.0" r="1.6"/>
<circle class="qr" cx="76.4" cy="247.0" r="1.6"/>
<circle class="qr" cx="79.23" cy="247.0" r="1.6"/>
<circle class="qr" cx="82.06" cy="247.0" r="1.6"/>
<circle class="qr" cx="84.89" cy="247.0" r="1.6"/>
<circle class="qr" cx="87.72" cy="247.0" r="1.6"/>
<circle class="qr" cx="90.55" cy="247.0" r="1.6"/>
<circle class="qr" cx="93.38" cy="247.0" r="1.6"/>
<circle class="qr" cx="96.22" cy="247.0" r="1.6"/>
<circle class="qr" cx="99.05" cy="247.0" r="1.6"/>
<circle class="qr" cx="101.88" cy="247.0" r="1.6"/>
<circle class="qr" cx="104.71" cy="247.0" r="1.6"/>
<circle class="qr" cx="107.54" cy="247.0" r="1.6"/>
<circle class="qr" cx="110.37" cy="247.0" r="1.6"/>
<circle class="qr" cx="113.2" cy="247.0" r="1.6"/>
<circle class="qr" cx="119.0" cy="247.0" r="1.6"/>
<circle class="qr" cx="121.67" cy="247.0" r="1.6"/>
<circle class="qr" cx="124.35" cy="247.0" r="1.6"/>
<circle class="qr" cx="127.02" cy="247.0" r="1.6"/>
<circle class="qr" cx="129.7" cy="247.0" r="1.6"/>
<circle class="qr" cx="135.1" cy="247.0" r="1.6"/>
<circle class="qr" cx="137.94" cy="247.0" r="1.6"/>
<circle class="qr" cx="140.78" cy="247.0" r="1.6"/>
<circle class="qr" cx="143.62" cy="247.0" r="1.6"/>
<circle class="qr" cx="146.46" cy="247.0" r="1.6"/>
<circle class="qr" cx="149.3" cy="247.0" r="1.6"/>
<circle class="qr" cx="155.8" cy="247.0" r="1.6"/>
<circle class="qr" cx="158.67" cy="247.0" r="1.6"/>
<circle class="qr" cx="161.53" cy="247.0" r="1.6"/>
<circle class="qr" cx="164.4" cy="247.0" r="1.6"/>
<circle class="qr" cx="167.27" cy="247.0" r="1.6"/>
<circle class="qr" cx="170.13" cy="247.0" r="1.6"/>
<circle class="qr" cx="173.0" cy="247.0" r="1.6"/>
<circle class="qr" cx="175.87" cy="247.0" r="1.6"/>
<circle class="qr" cx="178.73" cy="247.0" r="1.6"/>
<circle class="qr" cx="181.6" cy="247.0" r="1.6"/>
<circle class="qr" cx="184.47" cy="247.0" r="1.6"/>
<circle class="qr" cx="187.33" cy="247.0" r="1.6"/>
<circle class="qr" cx="190.2" cy="247.0" r="1.6"/>
<circle class="qr" cx="193.07" cy="247.0" r="1.6"/>
<circle class="qr" cx="195.93" cy="247.0" r="1.6"/>
<circle class="qr" cx="198.8" cy="247.0" r="1.6"/>
<circle class="qr" cx="201.67" cy="247.0" r="1.6"/>
<circle class="qr" cx="204.53" cy="247.0" r="1.6"/>
<circle class="qr" cx="207.4" cy="247.0" r="1.6"/>
<circle class="qr" cx="210.27" cy="247.0" r="1.6"/>
<circle class="qr" cx="213.13" cy="247.0" r="1.6"/>
<circle class="qr" cx="216.0" cy="247.0" r="1.6"/>
<circle class="qr" cx="219.5" cy="247.0" r="1.6"/>
<circle class="qr" cx="222.45" cy="247.0" r="1.6"/>
<circle class="qr" cx="225.4" cy="247.0" r="1.6"/>
<circle class="qr" cx="228.35" cy="247.0" r="1.6"/>
<circle class="qr" cx="231.3" cy="247.0" r="1.6"/>
<circle class="qr" cx="234.25" cy="247.0" r="1.6"/>
<circle class="qr" cx="237.2" cy="247.0" r="1.6"/>
<circle class="qr" cx="243.7" cy="247.0" r="1.6"/>
<circle class="qr" cx="246.52" cy="247.0" r="1.6"/>
<circle class="qr" cx="249.33" cy="247.0" r="1.6"/>
<circle class="qr" cx="252.15" cy="247.0" r="1.6"/>
<circle class="qr" cx="254.97" cy="247.0" r="1.6"/>
<circle class="qr" cx="257.78" cy="247.0" r="1.6"/>
<circle class="qr" cx="260.6" cy="247.0" r="1.6"/>
<circle class="qr" cx="266.4" cy="247.0" r="1.6"/>
<circle class="qr" cx="269.0" cy="247.0" r="1.6"/>
<circle class="qr" cx="271.6" cy="247.0" r="1.6"/>
<circle class="qr" cx="274.2" cy="247.0" r="1.6"/>
<circle class="qr" cx="276.8" cy="247.0" r="1.6"/>
<circle class="qr" cx="282.1" cy="247.0" r="1.6"/>
<circle class="qr" cx="284.94" cy="247.0" r="1.6"/>
<circle class="qr" cx="287.78" cy="247.0" r="1.6"/>
<circle class="qr" cx="290.61" cy="247.0" r="1.6"/>
<circle class="qr" cx="293.45" cy="247.0" r="1.6"/>
<circle class="qr" cx="296.29" cy="247.0" r="1.6"/>
<circle class="qr" cx="299.12" cy="247.0" r="1.6"/>
<circle class="qr" cx="301.96" cy="247.0" r="1.6"/>
<circle class="qr" cx="304.8" cy="247.0" r="1.6"/>
<circle class="qr" cx="310.5" cy="247.0" r="1.6"/>
<circle class="qr" cx="313.5" cy="247.0" r="1.6"/>
<circle class="qr" cx="316.5" cy="247.0" r="1.6"/>
<circle class="qr" cx="319.5" cy="247.0" r="1.6"/>
<circle class="qr" cx="322.5" cy="247.0" r="1.6"/>
<circle class="qr" cx="325.5" cy="247.0" r="1.6"/>
<circle class="qr" cx="329.3" cy="247.0" r="1.6"/>
<circle class="qr" cx="332.0" cy="247.0" r="1.6"/>
<circle class="qr" cx="334.7" cy="247.0" r="1.6"/>
<circle class="qr" cx="337.4" cy="247.0" r="1.6"/>
<circle class="qr" cx="340.1" cy="247.0" r="1.6"/>
<circle class="qr" cx="345.8" cy="247.0" r="1.6"/>
<circle class="qr" cx="348.3" cy="247.0" r="1.6"/>
<circle class="qr" cx="350.8" cy="247.0" r="1.6"/>
<circle class="qr" cx="355.8" cy="247.0" r="1.6"/>
<circle class="qr" cx="358.23" cy="247.0" r="1.6"/>
<circle class="qr" cx="360.67" cy="247.0" r="1.6"/>
<circle class="qr" cx="363.1" cy="247.0" r="1.6"/>
<circle class="qr" cx="368.5" cy="247.0" r="1.6"/>
<circle class="qr" cx="371.42" cy="247.0" r="1.6"/>
<circle class="qr" cx="374.34" cy="247.0" r="1.6"/>
<circle class="qr" cx="377.26" cy="247.0" r="1.6"/>
<circle class="qr" cx="380.18" cy="247.0" r="1.6"/>
<circle class="qr" cx="383.1" cy="247.0" r="1.6"/>
<circle class="qr" cx="387.7" cy="247.0" r="1.6"/>
<circle class="qr" cx="390.95" cy="247.0" r="1.6"/>
<circle class="qr" cx="394.2" cy="247.0" r="1.6"/>
<circle class="qr" cx="404.2" cy="247.0" r="1.6"/>
<circle class="qr" cx="407.0" cy="247.0" r="1.6"/>
<circle class="qr" cx="409.8" cy="247.0" r="1.6"/>
<circle class="qr" cx="412.6" cy="247.0" r="1.6"/>
<circle class="qr" cx="419.7" cy="247.0" r="1.6"/>
<circle class="qr" cx="424.7" cy="247.0" r="1.6"/>
<circle class="qr" cx="427.8" cy="247.0" r="1.6"/>
<circle class="qr" cx="437.2" cy="247.0" r="1.6"/>
<circle class="qr" cx="445.6" cy="247.0" r="1.6"/>
<circle class="qr" cx="448.76" cy="247.0" r="1.6"/>
<circle class="qr" cx="451.92" cy="247.0" r="1.6"/>
<circle class="qr" cx="455.08" cy="247.0" r="1.6"/>
<circle class="qr" cx="458.24" cy="247.0" r="1.6"/>
<circle class="qr" cx="461.4" cy="247.0" r="1.6"/>
<circle class="qr" cx="472.3" cy="247.0" r="1.6"/>
<circle class="qr" cx="475.07" cy="247.0" r="1.6"/>
<circle class="qr" cx="477.85" cy="247.0" r="1.6"/>
<circle class="qr" cx="480.62" cy="247.0" r="1.6"/>
<circle class="qr" cx="483.4" cy="247.0" r="1.6"/>
<circle class="qr" cx="486.18" cy="247.0" r="1.6"/>
<circle class="qr" cx="488.95" cy="247.0" r="1.6"/>
<circle class="qr" cx="491.73" cy="247.0" r="1.6"/>
<circle class="qr" cx="494.5" cy="247.0" r="1.6"/>
<circle class="qr" cx="509.3" cy="247.0" r="1.6"/>
<circle class="qr" cx="312.5" cy="247.0" r="1.6"/>
<circle class="qr" cx="371.8" cy="247.0" r="1.6"/>
<circle class="qr" cx="374.2" cy="247.0" r="1.6"/>
<circle class="qr" cx="376.5" cy="247.0" r="1.6"/>
<circle class="qr" cx="393" cy="247.0" r="1.6"/>
<circle class="qr" cx="410.3" cy="247.0" r="1.6"/>
<circle class="qr" cx="409" cy="247.0" r="1.6"/>
<circle class="qr" cx="458.3" cy="247.0" r="1.6"/>
<circle class="qr" cx="457" cy="247.0" r="1.6"/>
<circle class="qr" cx="481.5" cy="247.0" r="1.6"/>
<circle class="qr" cx="480" cy="247.0" r="1.6"/>
<circle class="pr" cx="48.2" cy="37.4" r="1.6"/>
<circle class="pr" cx="48.2" cy="107.4" r="1.6"/>
<circle class="pr" cx="62.2" cy="107.4" r="1.6"/>
<circle class="pr" cx="105.5" cy="107.4" r="1.6"/>
<circle class="pr" cx="48.2" cy="177.2" r="1.6"/>
<circle class="pr" cx="62.9" cy="177.2" r="1.6"/>
<circle class="pr" cx="76.7" cy="177.2" r="1.6"/>
<circle class="pr" cx="84.0" cy="177.2" r="1.6"/>
<circle class="pr" cx="86.0" cy="177.2" r="1.6"/>
<circle class="pr" cx="108.6" cy="177.2" r="1.6"/>
<circle class="pr" cx="119.1" cy="177.2" r="1.6"/>
<circle class="pr" cx="251.8" cy="177.2" r="1.6"/>
<circle class="qr" cx="100.9" cy="247.0" r="1.6"/>
<circle class="qr" cx="103.1" cy="247.0" r="1.6"/>
<circle class="qr" cx="105.3" cy="247.0" r="1.6"/>
<circle class="qr" cx="107.5" cy="247.0" r="1.6"/>
<circle class="qr" cx="109.7" cy="247.0" r="1.6"/>
<circle class="qr" cx="111.9" cy="247.0" r="1.6"/>
<circle class="qr" cx="143.9" cy="247.0" r="1.6"/>
<circle class="qr" cx="146.1" cy="247.0" r="1.6"/>
<circle class="qr" cx="251.9" cy="247.0" r="1.6"/>
<circle class="qr" cx="254.1" cy="247.0" r="1.6"/>
<circle class="qr" cx="256.3" cy="247.0" r="1.6"/>
<circle class="qr" cx="258.5" cy="247.0" r="1.6"/>
<circle class="qr" cx="260.7" cy="247.0" r="1.6"/>
<circle class="qr" cx="312.9" cy="247.0" r="1.6"/>
<circle class="qr" cx="371.9" cy="247.0" r="1.6"/>
<circle class="qr" cx="374.1" cy="247.0" r="1.6"/>
<circle class="qr" cx="376.3" cy="247.0" r="1.6"/>
<circle class="qr" cx="393.9" cy="247.0" r="1.6"/>
<circle class="qr" cx="409.9" cy="247.0" r="1.6"/>
<circle class="qr" cx="457.9" cy="247.0" r="1.6"/>
<circle class="qr" cx="480.9" cy="247.0" r="1.6"/>
<circle class="qr" cx="236.9" cy="247.0" r="1.6"/>
</g>
<rect x="44.5" y="27.2" width="466.0" height="223.20000000000002" fill="none" stroke="#000" stroke-width="1.3"/>
<line x1="41" y1="240.30" x2="44.5" y2="240.30" stroke="#000" stroke-width="0.9"/>
<text x="38.3" y="243.30" font-size="8.3" text-anchor="end" class="t">0</text>
<line x1="41" y1="170.30" x2="44.5" y2="170.30" stroke="#000" stroke-width="0.9"/>
<text x="38.3" y="173.30" font-size="8.3" text-anchor="end" class="t">1</text>
<line x1="41" y1="100.30" x2="44.5" y2="100.30" stroke="#000" stroke-width="0.9"/>
<text x="38.3" y="103.30" font-size="8.3" text-anchor="end" class="t">2</text>
<line x1="41" y1="30.30" x2="44.5" y2="30.30" stroke="#000" stroke-width="0.9"/>
<text x="38.3" y="33.30" font-size="8.3" text-anchor="end" class="t">3</text>
<line x1="48.20" y1="250.4" x2="48.20" y2="253.4" stroke="#000" stroke-width="0.9"/>
<text x="48.20" y="263.80" font-size="8.6" text-anchor="middle" class="t">0</text>
<line x1="94.10" y1="250.4" x2="94.10" y2="253.4" stroke="#000" stroke-width="0.9"/>
<text x="94.10" y="263.80" font-size="8.6" text-anchor="middle" class="t">5</text>
<line x1="140.00" y1="250.4" x2="140.00" y2="253.4" stroke="#000" stroke-width="0.9"/>
<text x="140.00" y="263.80" font-size="8.6" text-anchor="middle" class="t">10</text>
<line x1="185.90" y1="250.4" x2="185.90" y2="253.4" stroke="#000" stroke-width="0.9"/>
<text x="185.90" y="263.80" font-size="8.6" text-anchor="middle" class="t">15</text>
<line x1="231.80" y1="250.4" x2="231.80" y2="253.4" stroke="#000" stroke-width="0.9"/>
<text x="231.80" y="263.80" font-size="8.6" text-anchor="middle" class="t">20</text>
<line x1="277.70" y1="250.4" x2="277.70" y2="253.4" stroke="#000" stroke-width="0.9"/>
<text x="277.70" y="263.80" font-size="8.6" text-anchor="middle" class="t">25</text>
<line x1="323.60" y1="250.4" x2="323.60" y2="253.4" stroke="#000" stroke-width="0.9"/>
<text x="323.60" y="263.80" font-size="8.6" text-anchor="middle" class="t">30</text>
<line x1="369.50" y1="250.4" x2="369.50" y2="253.4" stroke="#000" stroke-width="0.9"/>
<text x="369.50" y="263.80" font-size="8.6" text-anchor="middle" class="t">35</text>
<line x1="415.40" y1="250.4" x2="415.40" y2="253.4" stroke="#000" stroke-width="0.9"/>
<text x="415.40" y="263.80" font-size="8.6" text-anchor="middle" class="t">40</text>
<line x1="461.30" y1="250.4" x2="461.30" y2="253.4" stroke="#000" stroke-width="0.9"/>
<text x="461.30" y="263.80" font-size="8.6" text-anchor="middle" class="t">45</text>
<line x1="507.20" y1="250.4" x2="507.20" y2="253.4" stroke="#000" stroke-width="0.9"/>
<text x="507.20" y="263.80" font-size="8.6" text-anchor="middle" class="t">50</text>
<text x="244.8" y="21.50" font-size="10.1" textLength="64.6" lengthAdjust="spacingAndGlyphs" class="t">Study 270-201</text>
<text x="234.6" y="278.00" font-size="10.8" textLength="87.3" lengthAdjust="spacingAndGlyphs" class="t">Factor VIII activity (IU/dL)</text>
<text transform="translate(27.9,193.10) rotate(-90)" font-size="11" textLength="109.6" lengthAdjust="spacingAndGlyphs" class="t">Number of treated joint bleeds</text>
<text x="6.3" y="17.60" font-size="12.2" font-weight="bold" textLength="10.2" lengthAdjust="spacingAndGlyphs" fill="#000">A</text>
<circle cx="397.8" cy="39.0" r="1.5" fill="none" stroke="#465d98" stroke-width="0.75"/>
<circle cx="397.8" cy="51.7" r="1.5" fill="none" stroke="#c43556" stroke-width="0.75"/>
<text x="403.2" y="41.50" font-size="7.9" textLength="82.3" lengthAdjust="spacingAndGlyphs" class="tl">One-stage FVIII Activity</text>
<text x="403.2" y="54.20" font-size="7.9" textLength="93.5" lengthAdjust="spacingAndGlyphs" class="tl">Chromogenic FVIII Activity</text>
<clipPath id="clipB"><rect x="44.5" y="316.2" width="466.0" height="223.2"/></clipPath>
<g clip-path="url(#clipB)">
<path d="M48.2,455.79 L50.1,458.03 L52.1,460.20 L54.0,462.29 L55.9,464.31 L57.9,466.27 L59.8,468.16 L61.7,469.99 L63.7,471.76 L65.6,473.47 L67.5,475.13 L69.5,476.74 L71.4,478.31 L73.3,479.84 L75.3,481.33 L77.2,482.78 L79.1,484.17 L81.1,485.52 L83.0,486.82 L85.0,488.06 L86.9,489.27 L88.8,490.45 L90.8,491.60 L92.7,492.71 L94.6,493.78 L96.6,494.82 L98.5,495.83 L100.4,496.79 L102.4,497.72 L104.3,498.61 L106.2,499.46 L108.2,500.27 L110.1,501.05 L112.0,501.80 L114.0,502.52 L115.9,503.21 L117.8,503.88 L119.8,504.53 L121.7,505.16 L123.6,505.77 L125.6,506.36 L127.5,506.94 L129.4,507.50 L131.4,508.04 L133.3,508.56 L135.2,509.05 L137.2,509.52 L139.1,509.98 L141.0,510.42 L143.0,510.84 L144.9,511.26 L146.8,511.67 L148.8,512.07 L150.7,512.47 L152.7,512.86 L154.6,513.25 L156.5,513.62 L158.5,513.99 L160.4,514.34 L162.3,514.68 L164.3,515.01 L166.2,515.33 L168.1,515.63 L170.1,515.92 L172.0,516.21 L173.9,516.48 L175.9,516.74 L177.8,517.00 L179.7,517.25 L181.7,517.49 L183.6,517.73 L185.5,517.96 L187.5,518.18 L189.4,518.40 L191.3,518.62 L193.3,518.83 L195.2,519.04 L197.1,519.25 L199.1,519.46 L201.0,519.66 L202.9,519.86 L204.9,520.06 L206.8,520.26 L208.7,520.45 L210.7,520.65 L212.6,520.84 L214.6,521.03 L216.5,521.22 L218.4,521.40 L220.4,521.58 L222.3,521.75 L224.2,521.92 L226.2,522.09 L228.1,522.26 L230.0,522.42 L232.0,522.58 L233.9,522.74 L235.8,522.89 L237.8,523.04 L239.7,523.19 L241.6,523.33 L243.6,523.47 L245.5,523.59 L247.4,523.70 L249.4,523.80 L251.3,523.90 L253.2,524.01 L255.2,524.10 L257.1,524.20 L259.0,524.30 L261.0,524.39 L262.9,524.48 L264.8,524.57 L266.8,524.66 L268.7,524.75 L270.6,524.83 L272.6,524.91 L274.5,525.00 L276.4,525.08 L278.4,525.15 L280.3,525.23 L282.3,525.31 L284.2,525.38 L286.1,525.45 L288.1,525.53 L290.0,525.60 L291.9,525.66 L293.9,525.73 L295.8,525.80 L297.7,525.86 L299.7,525.93 L301.6,525.99 L303.5,526.05 L305.5,526.11 L307.4,526.17 L309.3,526.23 L311.3,526.28 L313.2,526.34 L315.1,526.39 L317.1,526.45 L319.0,526.50 L320.9,526.55 L322.9,526.60 L324.8,526.65 L326.7,526.70 L328.7,526.75 L330.6,526.79 L332.5,526.84 L334.5,526.89 L336.4,526.93 L338.3,526.97 L340.3,527.02 L342.2,527.06 L344.1,527.10 L346.1,527.14 L348.0,527.18 L350.0,527.22 L351.9,527.25 L353.8,527.29 L355.8,527.33 L357.7,527.36 L359.6,527.40 L361.6,527.43 L363.5,527.47 L365.4,527.50 L367.4,527.53 L369.3,527.56 L371.2,527.59 L373.2,527.62 L375.1,527.65 L377.0,527.68 L379.0,527.71 L380.9,527.74 L382.8,527.77 L384.8,527.80 L386.7,527.82 L388.6,527.85 L390.6,527.88 L392.5,527.90 L394.4,527.93 L396.4,527.95 L398.3,527.97 L400.2,528.00 L402.2,528.02 L404.1,528.04 L406.0,528.06 L408.0,528.09 L409.9,528.11 L411.9,528.13 L413.8,528.15 L415.7,528.17 L417.7,528.19 L419.6,528.21 L421.5,528.23 L423.5,528.24 L425.4,528.26 L427.3,528.28 L429.3,528.30 L431.2,528.32 L433.1,528.33 L435.1,528.35 L437.0,528.37 L438.9,528.38 L440.9,528.40 L442.8,528.41 L444.7,528.43 L446.7,528.44 L448.6,528.46 L450.5,528.47 L452.5,528.48 L454.4,528.50 L456.3,528.51 L458.3,528.52 L460.2,528.54 L462.1,528.55 L464.1,528.56 L466.0,528.57 L467.9,528.59 L469.9,528.60 L471.8,528.61 L473.7,528.62 L475.7,528.63 L477.6,528.64 L479.6,528.65 L481.5,528.66 L483.4,528.67 L485.4,528.68 L487.3,528.69 L489.2,528.70 L491.2,528.71 L493.1,528.72 L495.0,528.73 L497.0,528.74 L498.9,528.75 L500.8,528.76 L502.8,528.77 L504.7,528.77 L506.6,528.78 L508.6,528.79 L510.5,528.80 L510.5,529.19 L508.6,529.19 L506.6,529.19 L504.7,529.19 L502.8,529.19 L500.8,529.19 L498.9,529.19 L497.0,529.19 L495.0,529.19 L493.1,529.19 L491.2,529.19 L489.2,529.19 L487.3,529.19 L485.4,529.19 L483.4,529.19 L481.5,529.19 L479.6,529.19 L477.6,529.19 L475.7,529.19 L473.7,529.19 L471.8,529.19 L469.9,529.19 L467.9,529.19 L466.0,529.19 L464.1,529.19 L462.1,529.19 L460.2,529.19 L458.3,529.19 L456.3,529.18 L454.4,529.18 L452.5,529.18 L450.5,529.18 L448.6,529.18 L446.7,529.18 L444.7,529.18 L442.8,529.18 L440.9,529.18 L438.9,529.18 L437.0,529.18 L435.1,529.18 L433.1,529.18 L431.2,529.18 L429.3,529.18 L427.3,529.17 L425.4,529.17 L423.5,529.17 L421.5,529.17 L419.6,529.17 L417.7,529.17 L415.7,529.17 L413.8,529.17 L411.9,529.17 L409.9,529.17 L408.0,529.16 L406.0,529.16 L404.1,529.16 L402.2,529.16 L400.2,529.16 L398.3,529.16 L396.4,529.16 L394.4,529.15 L392.5,529.15 L390.6,529.15 L388.6,529.15 L386.7,529.15 L384.8,529.15 L382.8,529.14 L380.9,529.14 L379.0,529.14 L377.0,529.14 L375.1,529.14 L373.2,529.13 L371.2,529.13 L369.3,529.13 L367.4,529.13 L365.4,529.12 L363.5,529.12 L361.6,529.12 L359.6,529.11 L357.7,529.11 L355.8,529.11 L353.8,529.10 L351.9,529.10 L350.0,529.10 L348.0,529.09 L346.1,529.09 L344.1,529.09 L342.2,529.08 L340.3,529.08 L338.3,529.07 L336.4,529.07 L334.5,529.07 L332.5,529.06 L330.6,529.06 L328.7,529.05 L326.7,529.05 L324.8,529.04 L322.9,529.03 L320.9,529.03 L319.0,529.02 L317.1,529.02 L315.1,529.01 L313.2,529.00 L311.3,529.00 L309.3,528.99 L307.4,528.98 L305.5,528.97 L303.5,528.97 L301.6,528.96 L299.7,528.95 L297.7,528.94 L295.8,528.93 L293.9,528.92 L291.9,528.91 L290.0,528.90 L288.1,528.89 L286.1,528.88 L284.2,528.87 L282.3,528.86 L280.3,528.84 L278.4,528.83 L276.4,528.82 L274.5,528.80 L272.6,528.79 L270.6,528.78 L268.7,528.76 L266.8,528.75 L264.8,528.73 L262.9,528.71 L261.0,528.70 L259.0,528.68 L257.1,528.66 L255.2,528.64 L253.2,528.62 L251.3,528.60 L249.4,528.58 L247.4,528.56 L245.5,528.53 L243.6,528.51 L241.6,528.49 L239.7,528.47 L237.8,528.45 L235.8,528.43 L233.9,528.40 L232.0,528.38 L230.0,528.35 L228.1,528.33 L226.2,528.30 L224.2,528.27 L222.3,528.24 L220.4,528.21 L218.4,528.18 L216.5,528.15 L214.6,528.12 L212.6,528.08 L210.7,528.05 L208.7,528.01 L206.8,527.97 L204.9,527.93 L202.9,527.89 L201.0,527.85 L199.1,527.80 L197.1,527.75 L195.2,527.70 L193.3,527.65 L191.3,527.60 L189.4,527.55 L187.5,527.49 L185.5,527.43 L183.6,527.37 L181.7,527.31 L179.7,527.24 L177.8,527.18 L175.9,527.11 L173.9,527.04 L172.0,526.97 L170.1,526.89 L168.1,526.82 L166.2,526.74 L164.3,526.66 L162.3,526.58 L160.4,526.50 L158.5,526.42 L156.5,526.33 L154.6,526.24 L152.7,526.15 L150.7,526.06 L148.8,525.96 L146.8,525.86 L144.9,525.76 L143.0,525.65 L141.0,525.54 L139.1,525.42 L137.2,525.30 L135.2,525.18 L133.3,525.06 L131.4,524.94 L129.4,524.82 L127.5,524.69 L125.6,524.56 L123.6,524.43 L121.7,524.29 L119.8,524.15 L117.8,524.01 L115.9,523.86 L114.0,523.71 L112.0,523.56 L110.1,523.40 L108.2,523.24 L106.2,523.09 L104.3,522.93 L102.4,522.77 L100.4,522.60 L98.5,522.44 L96.6,522.27 L94.6,522.10 L92.7,521.93 L90.8,521.75 L88.8,521.57 L86.9,521.39 L85.0,521.20 L83.0,521.00 L81.1,520.80 L79.1,520.60 L77.2,520.40 L75.3,520.19 L73.3,519.98 L71.4,519.76 L69.5,519.54 L67.5,519.31 L65.6,519.07 L63.7,518.82 L61.7,518.58 L59.8,518.32 L57.9,518.06 L55.9,517.80 L54.0,517.53 L52.1,517.26 L50.1,516.98 L48.2,516.70 Z" fill="#c8cbdf"/>
<path d="M48.2,478.38 L50.1,480.55 L52.1,482.62 L54.0,484.59 L55.9,486.46 L57.9,488.23 L59.8,489.91 L61.7,491.50 L63.7,492.99 L65.6,494.41 L67.5,495.74 L69.5,496.99 L71.4,498.17 L73.3,499.31 L75.3,500.40 L77.2,501.45 L79.1,502.46 L81.1,503.42 L83.0,504.35 L85.0,505.23 L86.9,506.08 L88.8,506.89 L90.8,507.66 L92.7,508.40 L94.6,509.10 L96.6,509.77 L98.5,510.40 L100.4,511.00 L102.4,511.58 L104.3,512.12 L106.2,512.65 L108.2,513.14 L110.1,513.62 L112.0,514.07 L114.0,514.51 L115.9,514.92 L117.8,515.33 L119.8,515.71 L121.7,516.09 L123.6,516.45 L125.6,516.80 L127.5,517.14 L129.4,517.47 L131.4,517.78 L133.3,518.09 L135.2,518.37 L137.2,518.64 L139.1,518.89 L141.0,519.14 L143.0,519.37 L144.9,519.59 L146.8,519.80 L148.8,520.00 L150.7,520.20 L152.7,520.38 L154.6,520.56 L156.5,520.73 L158.5,520.90 L160.4,521.07 L162.3,521.25 L164.3,521.43 L166.2,521.61 L168.1,521.78 L170.1,521.94 L172.0,522.11 L173.9,522.27 L175.9,522.42 L177.8,522.58 L179.7,522.73 L181.7,522.87 L183.6,523.01 L185.5,523.15 L187.5,523.29 L189.4,523.42 L191.3,523.55 L193.3,523.68 L195.2,523.81 L197.1,523.93 L199.1,524.05 L201.0,524.16 L202.9,524.28 L204.9,524.39 L206.8,524.50 L208.7,524.60 L210.7,524.71 L212.6,524.81 L214.6,524.91 L216.5,525.00 L218.4,525.10 L220.4,525.19 L222.3,525.28 L224.2,525.37 L226.2,525.46 L228.1,525.54 L230.0,525.62 L232.0,525.70 L233.9,525.78 L235.8,525.86 L237.8,525.94 L239.7,526.01 L241.6,526.08 L243.6,526.15 L245.5,526.22 L247.4,526.29 L249.4,526.35 L251.3,526.42 L253.2,526.48 L255.2,526.54 L257.1,526.60 L259.0,526.66 L261.0,526.72 L262.9,526.77 L264.8,526.83 L266.8,526.88 L268.7,526.93 L270.6,526.98 L272.6,527.03 L274.5,527.08 L276.4,527.13 L278.4,527.18 L280.3,527.22 L282.3,527.27 L284.2,527.31 L286.1,527.35 L288.1,527.40 L290.0,527.44 L291.9,527.48 L293.9,527.52 L295.8,527.55 L297.7,527.59 L299.7,527.63 L301.6,527.66 L303.5,527.70 L305.5,527.73 L307.4,527.76 L309.3,527.80 L311.3,527.83 L313.2,527.86 L315.1,527.89 L317.1,527.92 L319.0,527.95 L320.9,527.98 L322.9,528.00 L324.8,528.03 L326.7,528.06 L328.7,528.08 L330.6,528.11 L332.5,528.13 L334.5,528.16 L336.4,528.18 L338.3,528.20 L340.3,528.23 L342.2,528.25 L344.1,528.27 L346.1,528.29 L348.0,528.31 L350.0,528.33 L351.9,528.35 L353.8,528.37 L355.8,528.39 L357.7,528.41 L359.6,528.42 L361.6,528.44 L363.5,528.46 L365.4,528.48 L367.4,528.49 L369.3,528.51 L371.2,528.52 L373.2,528.54 L375.1,528.55 L377.0,528.57 L379.0,528.58 L380.9,528.60 L382.8,528.61 L384.8,528.62 L386.7,528.64 L388.6,528.65 L390.6,528.66 L392.5,528.67 L394.4,528.69 L396.4,528.70 L398.3,528.71 L400.2,528.72 L402.2,528.73 L404.1,528.74 L406.0,528.75 L408.0,528.76 L409.9,528.77 L411.9,528.78 L413.8,528.79 L415.7,528.80 L417.7,528.81 L419.6,528.82 L421.5,528.83 L423.5,528.83 L425.4,528.84 L427.3,528.85 L429.3,528.86 L431.2,528.87 L433.1,528.87 L435.1,528.88 L437.0,528.89 L438.9,528.90 L440.9,528.90 L442.8,528.91 L444.7,528.92 L446.7,528.92 L448.6,528.93 L450.5,528.93 L452.5,528.94 L454.4,528.95 L456.3,528.95 L458.3,528.96 L460.2,528.96 L462.1,528.97 L464.1,528.97 L466.0,528.98 L467.9,528.98 L469.9,528.99 L471.8,528.99 L473.7,529.00 L475.7,529.00 L477.6,529.01 L479.6,529.01 L481.5,529.02 L483.4,529.02 L485.4,529.02 L487.3,529.03 L489.2,529.03 L491.2,529.04 L493.1,529.04 L495.0,529.04 L497.0,529.05 L498.9,529.05 L500.8,529.05 L502.8,529.06 L504.7,529.06 L506.6,529.06 L508.6,529.07 L510.5,529.07 L510.5,529.20 L508.6,529.20 L506.6,529.20 L504.7,529.20 L502.8,529.20 L500.8,529.20 L498.9,529.20 L497.0,529.20 L495.0,529.20 L493.1,529.20 L491.2,529.20 L489.2,529.20 L487.3,529.20 L485.4,529.20 L483.4,529.20 L481.5,529.20 L479.6,529.20 L477.6,529.20 L475.7,529.20 L473.7,529.20 L471.8,529.20 L469.9,529.20 L467.9,529.20 L466.0,529.20 L464.1,529.20 L462.1,529.20 L460.2,529.20 L458.3,529.20 L456.3,529.20 L454.4,529.20 L452.5,529.20 L450.5,529.20 L448.6,529.20 L446.7,529.20 L444.7,529.20 L442.8,529.20 L440.9,529.20 L438.9,529.20 L437.0,529.20 L435.1,529.20 L433.1,529.20 L431.2,529.20 L429.3,529.20 L427.3,529.20 L425.4,529.20 L423.5,529.20 L421.5,529.20 L419.6,529.20 L417.7,529.20 L415.7,529.20 L413.8,529.20 L411.9,529.19 L409.9,529.19 L408.0,529.19 L406.0,529.19 L404.1,529.19 L402.2,529.19 L400.2,529.19 L398.3,529.19 L396.4,529.19 L394.4,529.19 L392.5,529.19 L390.6,529.19 L388.6,529.19 L386.7,529.19 L384.8,529.19 L382.8,529.19 L380.9,529.19 L379.0,529.19 L377.0,529.19 L375.1,529.19 L373.2,529.19 L371.2,529.19 L369.3,529.19 L367.4,529.19 L365.4,529.19 L363.5,529.19 L361.6,529.18 L359.6,529.18 L357.7,529.18 L355.8,529.18 L353.8,529.18 L351.9,529.18 L350.0,529.18 L348.0,529.18 L346.1,529.18 L344.1,529.18 L342.2,529.18 L340.3,529.18 L338.3,529.17 L336.4,529.17 L334.5,529.17 L332.5,529.17 L330.6,529.17 L328.7,529.17 L326.7,529.17 L324.8,529.17 L322.9,529.16 L320.9,529.16 L319.0,529.16 L317.1,529.16 L315.1,529.16 L313.2,529.16 L311.3,529.15 L309.3,529.15 L307.4,529.15 L305.5,529.15 L303.5,529.15 L301.6,529.14 L299.7,529.14 L297.7,529.14 L295.8,529.14 L293.9,529.13 L291.9,529.13 L290.0,529.13 L288.1,529.13 L286.1,529.12 L284.2,529.12 L282.3,529.11 L280.3,529.11 L278.4,529.11 L276.4,529.10 L274.5,529.10 L272.6,529.09 L270.6,529.09 L268.7,529.09 L266.8,529.08 L264.8,529.08 L262.9,529.07 L261.0,529.06 L259.0,529.06 L257.1,529.05 L255.2,529.05 L253.2,529.04 L251.3,529.03 L249.4,529.03 L247.4,529.02 L245.5,529.01 L243.6,529.00 L241.6,528.99 L239.7,528.98 L237.8,528.98 L235.8,528.97 L233.9,528.96 L232.0,528.95 L230.0,528.93 L228.1,528.92 L226.2,528.91 L224.2,528.90 L222.3,528.89 L220.4,528.87 L218.4,528.86 L216.5,528.84 L214.6,528.83 L212.6,528.81 L210.7,528.80 L208.7,528.78 L206.8,528.76 L204.9,528.74 L202.9,528.72 L201.0,528.70 L199.1,528.68 L197.1,528.66 L195.2,528.63 L193.3,528.61 L191.3,528.58 L189.4,528.56 L187.5,528.53 L185.5,528.50 L183.6,528.47 L181.7,528.44 L179.7,528.41 L177.8,528.37 L175.9,528.34 L173.9,528.30 L172.0,528.26 L170.1,528.22 L168.1,528.18 L166.2,528.13 L164.3,528.09 L162.3,528.04 L160.4,527.99 L158.5,527.93 L156.5,527.87 L154.6,527.81 L152.7,527.75 L150.7,527.69 L148.8,527.62 L146.8,527.55 L144.9,527.48 L143.0,527.40 L141.0,527.32 L139.1,527.25 L137.2,527.16 L135.2,527.08 L133.3,527.00 L131.4,526.91 L129.4,526.82 L127.5,526.73 L125.6,526.64 L123.6,526.54 L121.7,526.44 L119.8,526.34 L117.8,526.23 L115.9,526.12 L114.0,526.01 L112.0,525.89 L110.1,525.77 L108.2,525.65 L106.2,525.53 L104.3,525.40 L102.4,525.27 L100.4,525.14 L98.5,525.01 L96.6,524.87 L94.6,524.73 L92.7,524.60 L90.8,524.45 L88.8,524.31 L86.9,524.17 L85.0,524.02 L83.0,523.87 L81.1,523.71 L79.1,523.56 L77.2,523.39 L75.3,523.23 L73.3,523.06 L71.4,522.89 L69.5,522.71 L67.5,522.54 L65.6,522.36 L63.7,522.19 L61.7,522.01 L59.8,521.84 L57.9,521.67 L55.9,521.50 L54.0,521.33 L52.1,521.15 L50.1,520.98 L48.2,520.80 Z" fill="#c98d83" fill-opacity="0.5"/>
<path d="M48.2,498.90 L50.1,499.71 L52.1,500.50 L54.0,501.26 L55.9,502.00 L57.9,502.73 L59.8,503.43 L61.7,504.12 L63.7,504.79 L65.6,505.44 L67.5,506.07 L69.5,506.68 L71.4,507.28 L73.3,507.87 L75.3,508.44 L77.2,508.99 L79.1,509.53 L81.1,510.05 L83.0,510.56 L85.0,511.06 L86.9,511.54 L88.8,512.01 L90.8,512.47 L92.7,512.91 L94.6,513.35 L96.6,513.77 L98.5,514.18 L100.4,514.58 L102.4,514.97 L104.3,515.35 L106.2,515.72 L108.2,516.08 L110.1,516.42 L112.0,516.76 L114.0,517.10 L115.9,517.42 L117.8,517.73 L119.8,518.04 L121.7,518.33 L123.6,518.62 L125.6,518.90 L127.5,519.18 L129.4,519.45 L131.4,519.71 L133.3,519.96 L135.2,520.20 L137.2,520.44 L139.1,520.68 L141.0,520.90 L143.0,521.12 L144.9,521.34 L146.8,521.55 L148.8,521.75 L150.7,521.95 L152.7,522.14 L154.6,522.33 L156.5,522.51 L158.5,522.69 L160.4,522.87 L162.3,523.03 L164.3,523.20 L166.2,523.36 L168.1,523.51 L170.1,523.67 L172.0,523.81 L173.9,523.96 L175.9,524.10 L177.8,524.23 L179.7,524.36 L181.7,524.49 L183.6,524.62 L185.5,524.74 L187.5,524.86 L189.4,524.97 L191.3,525.09 L193.3,525.20 L195.2,525.30 L197.1,525.41 L199.1,525.51 L201.0,525.61 L202.9,525.70 L204.9,525.79 L206.8,525.89 L208.7,525.97 L210.7,526.06 L212.6,526.14 L214.6,526.22 L216.5,526.30 L218.4,526.38 L220.4,526.46 L222.3,526.53 L224.2,526.60 L226.2,526.67 L228.1,526.74 L230.0,526.80 L232.0,526.87 L233.9,526.93 L235.8,526.99 L237.8,527.05 L239.7,527.10 L241.6,527.16 L243.6,527.21 L245.5,527.27 L247.4,527.32 L249.4,527.37 L251.3,527.42 L253.2,527.47 L255.2,527.51 L257.1,527.56 L259.0,527.60 L261.0,527.64 L262.9,527.68 L264.8,527.72 L266.8,527.76 L268.7,527.80 L270.6,527.84 L272.6,527.88 L274.5,527.91 L276.4,527.95 L278.4,527.98 L280.3,528.01 L282.3,528.04 L284.2,528.07 L286.1,528.10 L288.1,528.13 L290.0,528.16 L291.9,528.19 L293.9,528.22 L295.8,528.24 L297.7,528.27 L299.7,528.29 L301.6,528.32 L303.5,528.34 L305.5,528.36 L307.4,528.39 L309.3,528.41 L311.3,528.43 L313.2,528.45 L315.1,528.47 L317.1,528.49 L319.0,528.51 L320.9,528.53 L322.9,528.54 L324.8,528.56 L326.7,528.58 L328.7,528.59 L330.6,528.61 L332.5,528.63 L334.5,528.64 L336.4,528.66 L338.3,528.67 L340.3,528.68 L342.2,528.70 L344.1,528.71 L346.1,528.73 L348.0,528.74 L350.0,528.75 L351.9,528.76 L353.8,528.77 L355.8,528.78 L357.7,528.80 L359.6,528.81 L361.6,528.82 L363.5,528.83 L365.4,528.84 L367.4,528.85 L369.3,528.86 L371.2,528.87 L373.2,528.87 L375.1,528.88 L377.0,528.89 L379.0,528.90 L380.9,528.91 L382.8,528.92 L384.8,528.92 L386.7,528.93 L388.6,528.94 L390.6,528.94 L392.5,528.95 L394.4,528.96 L396.4,528.96 L398.3,528.97 L400.2,528.98 L402.2,528.98 L404.1,528.99 L406.0,528.99 L408.0,529.00 L409.9,529.01 L411.9,529.01 L413.8,529.02 L415.7,529.02 L417.7,529.02 L419.6,529.03 L421.5,529.03 L423.5,529.04 L425.4,529.04 L427.3,529.05 L429.3,529.05 L431.2,529.06 L433.1,529.06 L435.1,529.06 L437.0,529.07 L438.9,529.07 L440.9,529.07 L442.8,529.08 L444.7,529.08 L446.7,529.08 L448.6,529.09 L450.5,529.09 L452.5,529.09 L454.4,529.10 L456.3,529.10 L458.3,529.10 L460.2,529.10 L462.1,529.11 L464.1,529.11 L466.0,529.11 L467.9,529.11 L469.9,529.12 L471.8,529.12 L473.7,529.12 L475.7,529.12 L477.6,529.12 L479.6,529.13 L481.5,529.13 L483.4,529.13 L485.4,529.13 L487.3,529.13 L489.2,529.14 L491.2,529.14 L493.1,529.14 L495.0,529.14 L497.0,529.14 L498.9,529.14 L500.8,529.15 L502.8,529.15 L504.7,529.15 L506.6,529.15 L508.6,529.15 L510.5,529.15" fill="none" stroke="#2c4a8c" stroke-width="1.05"/>
<path d="M48.2,508.54 L50.1,509.20 L52.1,509.84 L54.0,510.46 L55.9,511.06 L57.9,511.64 L59.8,512.20 L61.7,512.74 L63.7,513.27 L65.6,513.78 L67.5,514.27 L69.5,514.75 L71.4,515.21 L73.3,515.66 L75.3,516.09 L77.2,516.51 L79.1,516.91 L81.1,517.31 L83.0,517.69 L85.0,518.05 L86.9,518.41 L88.8,518.76 L90.8,519.09 L92.7,519.41 L94.6,519.73 L96.6,520.03 L98.5,520.32 L100.4,520.61 L102.4,520.88 L104.3,521.15 L106.2,521.40 L108.2,521.65 L110.1,521.89 L112.0,522.13 L114.0,522.35 L115.9,522.57 L117.8,522.78 L119.8,522.99 L121.7,523.19 L123.6,523.38 L125.6,523.57 L127.5,523.75 L129.4,523.92 L131.4,524.09 L133.3,524.25 L135.2,524.41 L137.2,524.56 L139.1,524.71 L141.0,524.86 L143.0,524.99 L144.9,525.13 L146.8,525.26 L148.8,525.39 L150.7,525.51 L152.7,525.63 L154.6,525.74 L156.5,525.85 L158.5,525.96 L160.4,526.06 L162.3,526.16 L164.3,526.26 L166.2,526.35 L168.1,526.44 L170.1,526.53 L172.0,526.62 L173.9,526.70 L175.9,526.78 L177.8,526.86 L179.7,526.93 L181.7,527.00 L183.6,527.07 L185.5,527.14 L187.5,527.21 L189.4,527.27 L191.3,527.33 L193.3,527.39 L195.2,527.45 L197.1,527.51 L199.1,527.56 L201.0,527.61 L202.9,527.66 L204.9,527.71 L206.8,527.76 L208.7,527.81 L210.7,527.85 L212.6,527.89 L214.6,527.94 L216.5,527.98 L218.4,528.02 L220.4,528.05 L222.3,528.09 L224.2,528.13 L226.2,528.16 L228.1,528.19 L230.0,528.23 L232.0,528.26 L233.9,528.29 L235.8,528.32 L237.8,528.34 L239.7,528.37 L241.6,528.40 L243.6,528.42 L245.5,528.45 L247.4,528.47 L249.4,528.50 L251.3,528.52 L253.2,528.54 L255.2,528.56 L257.1,528.58 L259.0,528.60 L261.0,528.62 L262.9,528.64 L264.8,528.66 L266.8,528.67 L268.7,528.69 L270.6,528.71 L272.6,528.72 L274.5,528.74 L276.4,528.75 L278.4,528.77 L280.3,528.78 L282.3,528.79 L284.2,528.81 L286.1,528.82 L288.1,528.83 L290.0,528.84 L291.9,528.86 L293.9,528.87 L295.8,528.88 L297.7,528.89 L299.7,528.90 L301.6,528.91 L303.5,528.92 L305.5,528.93 L307.4,528.93 L309.3,528.94 L311.3,528.95 L313.2,528.96 L315.1,528.97 L317.1,528.97 L319.0,528.98 L320.9,528.99 L322.9,529.00 L324.8,529.00 L326.7,529.01 L328.7,529.01 L330.6,529.02 L332.5,529.03 L334.5,529.03 L336.4,529.04 L338.3,529.04 L340.3,529.05 L342.2,529.05 L344.1,529.06 L346.1,529.06 L348.0,529.07 L350.0,529.07 L351.9,529.07 L353.8,529.08 L355.8,529.08 L357.7,529.09 L359.6,529.09 L361.6,529.09 L363.5,529.10 L365.4,529.10 L367.4,529.10 L369.3,529.11 L371.2,529.11 L373.2,529.11 L375.1,529.11 L377.0,529.12 L379.0,529.12 L380.9,529.12 L382.8,529.13 L384.8,529.13 L386.7,529.13 L388.6,529.13 L390.6,529.13 L392.5,529.14 L394.4,529.14 L396.4,529.14 L398.3,529.14 L400.2,529.14 L402.2,529.15 L404.1,529.15 L406.0,529.15 L408.0,529.15 L409.9,529.15 L411.9,529.15 L413.8,529.16 L415.7,529.16 L417.7,529.16 L419.6,529.16 L421.5,529.16 L423.5,529.16 L425.4,529.16 L427.3,529.16 L429.3,529.17 L431.2,529.17 L433.1,529.17 L435.1,529.17 L437.0,529.17 L438.9,529.17 L440.9,529.17 L442.8,529.17 L444.7,529.17 L446.7,529.17 L448.6,529.18 L450.5,529.18 L452.5,529.18 L454.4,529.18 L456.3,529.18 L458.3,529.18 L460.2,529.18 L462.1,529.18 L464.1,529.18 L466.0,529.18 L467.9,529.18 L469.9,529.18 L471.8,529.18 L473.7,529.18 L475.7,529.18 L477.6,529.18 L479.6,529.19 L481.5,529.19 L483.4,529.19 L485.4,529.19 L487.3,529.19 L489.2,529.19 L491.2,529.19 L493.1,529.19 L495.0,529.19 L497.0,529.19 L498.9,529.19 L500.8,529.19 L502.8,529.19 L504.7,529.19 L506.6,529.19 L508.6,529.19 L510.5,529.19" fill="none" stroke="#c0253f" stroke-width="1.25" stroke-dasharray="3.1 2.4"/>
<circle class="qb" cx="64.1" cy="529.2" r="1.6"/>
<circle class="qb" cx="66.8" cy="529.2" r="1.6"/>
<circle class="qb" cx="69.8" cy="529.2" r="1.6"/>
<circle class="qb" cx="76.4" cy="529.2" r="1.6"/>
<circle class="qb" cx="78.7" cy="529.2" r="1.6"/>
<circle class="qb" cx="81.4" cy="529.2" r="1.6"/>
<circle class="qb" cx="86.2" cy="529.2" r="1.6"/>
<circle class="qb" cx="88.96" cy="529.2" r="1.6"/>
<circle class="qb" cx="91.72" cy="529.2" r="1.6"/>
<circle class="qb" cx="94.48" cy="529.2" r="1.6"/>
<circle class="qb" cx="97.24" cy="529.2" r="1.6"/>
<circle class="qb" cx="100.0" cy="529.2" r="1.6"/>
<circle class="qb" cx="102.76" cy="529.2" r="1.6"/>
<circle class="qb" cx="105.52" cy="529.2" r="1.6"/>
<circle class="qb" cx="108.28" cy="529.2" r="1.6"/>
<circle class="qb" cx="111.04" cy="529.2" r="1.6"/>
<circle class="qb" cx="113.8" cy="529.2" r="1.6"/>
<circle class="qb" cx="117.1" cy="529.2" r="1.6"/>
<circle class="qb" cx="126.2" cy="529.2" r="1.6"/>
<circle class="qb" cx="132.4" cy="529.2" r="1.6"/>
<circle class="qb" cx="134.3" cy="529.2" r="1.6"/>
<circle class="qb" cx="141.6" cy="529.2" r="1.6"/>
<circle class="qb" cx="150.5" cy="529.2" r="1.6"/>
<circle class="qb" cx="152.8" cy="529.2" r="1.6"/>
<circle class="qb" cx="157.8" cy="529.2" r="1.6"/>
<circle class="qb" cx="164.6" cy="529.2" r="1.6"/>
<circle class="qb" cx="172.7" cy="529.2" r="1.6"/>
<circle class="qb" cx="175.4" cy="529.2" r="1.6"/>
<circle class="qb" cx="178.1" cy="529.2" r="1.6"/>
<circle class="qb" cx="180.8" cy="529.2" r="1.6"/>
<circle class="qb" cx="190.4" cy="529.2" r="1.6"/>
<circle class="qb" cx="192.3" cy="529.2" r="1.6"/>
<circle class="qb" cx="197.7" cy="529.2" r="1.6"/>
<circle class="qb" cx="199.5" cy="529.2" r="1.6"/>
<circle class="qb" cx="208.0" cy="529.2" r="1.6"/>
<circle class="qb" cx="210.7" cy="529.2" r="1.6"/>
<circle class="qb" cx="214.2" cy="529.2" r="1.6"/>
<circle class="qb" cx="224.2" cy="529.2" r="1.6"/>
<circle class="qb" cx="226.8" cy="529.2" r="1.6"/>
<circle class="qb" cx="229.5" cy="529.2" r="1.6"/>
<circle class="qb" cx="232.2" cy="529.2" r="1.6"/>
<circle class="qb" cx="235.7" cy="529.2" r="1.6"/>
<circle class="qb" cx="237.5" cy="529.2" r="1.6"/>
<circle class="qb" cx="240.31" cy="529.2" r="1.6"/>
<circle class="qb" cx="243.13" cy="529.2" r="1.6"/>
<circle class="qb" cx="245.94" cy="529.2" r="1.6"/>
<circle class="qb" cx="248.76" cy="529.2" r="1.6"/>
<circle class="qb" cx="251.57" cy="529.2" r="1.6"/>
<circle class="qb" cx="254.39" cy="529.2" r="1.6"/>
<circle class="qb" cx="257.2" cy="529.2" r="1.6"/>
<circle class="qb" cx="272.2" cy="529.2" r="1.6"/>
<circle class="qb" cx="274.5" cy="529.2" r="1.6"/>
<circle class="qb" cx="276.3" cy="529.2" r="1.6"/>
<circle class="qb" cx="286.3" cy="529.2" r="1.6"/>
<circle class="qb" cx="289.4" cy="529.2" r="1.6"/>
<circle class="qb" cx="291.7" cy="529.2" r="1.6"/>
<circle class="qb" cx="296.7" cy="529.2" r="1.6"/>
<circle class="qb" cx="310.9" cy="529.2" r="1.6"/>
<circle class="qb" cx="312.0" cy="529.2" r="1.6"/>
<circle class="qb" cx="330.5" cy="529.2" r="1.6"/>
<circle class="qb" cx="333.2" cy="529.2" r="1.6"/>
<circle class="qb" cx="335.8" cy="529.2" r="1.6"/>
<circle class="qb" cx="338.2" cy="529.2" r="1.6"/>
<circle class="qb" cx="340.5" cy="529.2" r="1.6"/>
<circle class="qb" cx="345.8" cy="529.2" r="1.6"/>
<circle class="qb" cx="350.5" cy="529.2" r="1.6"/>
<circle class="qb" cx="351.5" cy="529.2" r="1.6"/>
<circle class="qb" cx="362.7" cy="529.2" r="1.6"/>
<circle class="qb" cx="365.4" cy="529.2" r="1.6"/>
<circle class="qb" cx="368.1" cy="529.2" r="1.6"/>
<circle class="qb" cx="370.4" cy="529.2" r="1.6"/>
<circle class="qb" cx="372.3" cy="529.2" r="1.6"/>
<circle class="qb" cx="379.2" cy="529.2" r="1.6"/>
<circle class="qb" cx="384.2" cy="529.2" r="1.6"/>
<circle class="qb" cx="388.5" cy="529.2" r="1.6"/>
<circle class="qb" cx="391.1" cy="529.2" r="1.6"/>
<circle class="qb" cx="394.9" cy="529.2" r="1.6"/>
<circle class="qb" cx="403.4" cy="529.2" r="1.6"/>
<circle class="qb" cx="418.0" cy="529.2" r="1.6"/>
<circle class="qb" cx="453.3" cy="529.2" r="1.6"/>
<circle class="qb" cx="455.6" cy="529.2" r="1.6"/>
<circle class="qb" cx="462.2" cy="529.2" r="1.6"/>
<circle class="qb" cx="468.6" cy="529.2" r="1.6"/>
<circle class="qb" cx="471.4" cy="529.2" r="1.6"/>
<circle class="qb" cx="473.7" cy="529.2" r="1.6"/>
<circle class="qb" cx="479.7" cy="529.2" r="1.6"/>
<circle class="qb" cx="488.0" cy="529.2" r="1.6"/>
<circle class="qb" cx="489.9" cy="529.2" r="1.6"/>
<circle class="qb" cx="133.3" cy="529.2" r="1.6"/>
<circle class="qb" cx="191.3" cy="529.2" r="1.6"/>
<circle class="qb" cx="371.3" cy="529.2" r="1.6"/>
<circle class="qb" cx="454.5" cy="529.2" r="1.6"/>
<circle class="qb" cx="489" cy="529.2" r="1.6"/>
<circle class="pb" cx="130.7" cy="319.7" r="1.6"/>
<circle class="pb" cx="143.5" cy="319.7" r="1.6"/>
<circle class="pb" cx="69.2" cy="459.2" r="1.6"/>
<circle class="pb" cx="81.0" cy="459.2" r="1.6"/>
<circle class="pb" cx="85.0" cy="459.2" r="1.6"/>
<circle class="pb" cx="89.1" cy="459.2" r="1.6"/>
<circle class="pb" cx="93.1" cy="459.2" r="1.6"/>
<circle class="pb" cx="166.2" cy="459.2" r="1.6"/>
<circle class="qb" cx="79.6" cy="529.2" r="1.6"/>
<circle class="qb" cx="81.8" cy="529.2" r="1.6"/>
<circle class="qb" cx="133.3" cy="529.2" r="1.6"/>
<circle class="qb" cx="191.3" cy="529.2" r="1.6"/>
<circle class="qb" cx="371.3" cy="529.2" r="1.6"/>
<circle class="qb" cx="454.2" cy="529.2" r="1.6"/>
<circle class="qb" cx="456.4" cy="529.2" r="1.6"/>
<circle class="qb" cx="488.9" cy="529.2" r="1.6"/>
<circle class="qb" cx="95.9" cy="529.2" r="1.6"/>
<circle class="qb" cx="98.1" cy="529.2" r="1.6"/>
<circle class="qb" cx="100.3" cy="529.2" r="1.6"/>
<circle class="qb" cx="102.5" cy="529.2" r="1.6"/>
<circle class="qb" cx="104.7" cy="529.2" r="1.6"/>
<circle class="qr" cx="48.3" cy="535.9" r="1.6"/>
<circle class="qr" cx="63.5" cy="535.9" r="1.6"/>
<circle class="qr" cx="65.0" cy="535.9" r="1.6"/>
<circle class="qr" cx="69.8" cy="535.9" r="1.6"/>
<circle class="qr" cx="79.1" cy="535.9" r="1.6"/>
<circle class="qr" cx="82.0" cy="535.9" r="1.6"/>
<circle class="qr" cx="84.6" cy="535.9" r="1.6"/>
<circle class="qr" cx="87.49" cy="535.9" r="1.6"/>
<circle class="qr" cx="90.38" cy="535.9" r="1.6"/>
<circle class="qr" cx="93.26" cy="535.9" r="1.6"/>
<circle class="qr" cx="96.15" cy="535.9" r="1.6"/>
<circle class="qr" cx="99.04" cy="535.9" r="1.6"/>
<circle class="qr" cx="101.92" cy="535.9" r="1.6"/>
<circle class="qr" cx="104.81" cy="535.9" r="1.6"/>
<circle class="qr" cx="107.7" cy="535.9" r="1.6"/>
<circle class="qr" cx="109.5" cy="535.9" r="1.6"/>
<circle class="qr" cx="112.33" cy="535.9" r="1.6"/>
<circle class="qr" cx="115.17" cy="535.9" r="1.6"/>
<circle class="qr" cx="118.0" cy="535.9" r="1.6"/>
<circle class="qr" cx="120.83" cy="535.9" r="1.6"/>
<circle class="qr" cx="123.67" cy="535.9" r="1.6"/>
<circle class="qr" cx="126.5" cy="535.9" r="1.6"/>
<circle class="qr" cx="129.33" cy="535.9" r="1.6"/>
<circle class="qr" cx="132.17" cy="535.9" r="1.6"/>
<circle class="qr" cx="135.0" cy="535.9" r="1.6"/>
<circle class="qr" cx="137.83" cy="535.9" r="1.6"/>
<circle class="qr" cx="140.67" cy="535.9" r="1.6"/>
<circle class="qr" cx="143.5" cy="535.9" r="1.6"/>
<circle class="qr" cx="146.33" cy="535.9" r="1.6"/>
<circle class="qr" cx="149.17" cy="535.9" r="1.6"/>
<circle class="qr" cx="152.0" cy="535.9" r="1.6"/>
<circle class="qr" cx="154.83" cy="535.9" r="1.6"/>
<circle class="qr" cx="157.67" cy="535.9" r="1.6"/>
<circle class="qr" cx="160.5" cy="535.9" r="1.6"/>
<circle class="qr" cx="163.1" cy="535.9" r="1.6"/>
<circle class="qr" cx="165.8" cy="535.9" r="1.6"/>
<circle class="qr" cx="176.5" cy="535.9" r="1.6"/>
<circle class="qr" cx="179.2" cy="535.9" r="1.6"/>
<circle class="qr" cx="181.5" cy="535.9" r="1.6"/>
<circle class="qr" cx="183.8" cy="535.9" r="1.6"/>
<circle class="qr" cx="189.6" cy="535.9" r="1.6"/>
<circle class="qr" cx="192.3" cy="535.9" r="1.6"/>
<circle class="qr" cx="194.6" cy="535.9" r="1.6"/>
<circle class="qr" cx="205.3" cy="535.9" r="1.6"/>
<circle class="qr" cx="208.33" cy="535.9" r="1.6"/>
<circle class="qr" cx="211.35" cy="535.9" r="1.6"/>
<circle class="qr" cx="214.38" cy="535.9" r="1.6"/>
<circle class="qr" cx="217.4" cy="535.9" r="1.6"/>
<circle class="qr" cx="220.43" cy="535.9" r="1.6"/>
<circle class="qr" cx="223.45" cy="535.9" r="1.6"/>
<circle class="qr" cx="226.47" cy="535.9" r="1.6"/>
<circle class="qr" cx="229.5" cy="535.9" r="1.6"/>
<circle class="qr" cx="246.8" cy="535.9" r="1.6"/>
<circle class="qr" cx="249.0" cy="535.9" r="1.6"/>
<circle class="qr" cx="255.6" cy="535.9" r="1.6"/>
<circle class="qr" cx="264.1" cy="535.9" r="1.6"/>
<circle class="qr" cx="267.3" cy="535.9" r="1.6"/>
<circle class="qr" cx="270.5" cy="535.9" r="1.6"/>
<circle class="qr" cx="273.7" cy="535.9" r="1.6"/>
<circle class="qr" cx="275.2" cy="535.9" r="1.6"/>
<circle class="qr" cx="277.8" cy="535.9" r="1.6"/>
<circle class="qr" cx="280.2" cy="535.9" r="1.6"/>
<circle class="qr" cx="285.2" cy="535.9" r="1.6"/>
<circle class="qr" cx="287.5" cy="535.9" r="1.6"/>
<circle class="qr" cx="294.8" cy="535.9" r="1.6"/>
<circle class="qr" cx="297.1" cy="535.9" r="1.6"/>
<circle class="qr" cx="299.4" cy="535.9" r="1.6"/>
<circle class="qr" cx="306.3" cy="535.9" r="1.6"/>
<circle class="qr" cx="309.0" cy="535.9" r="1.6"/>
<circle class="qr" cx="311.7" cy="535.9" r="1.6"/>
<circle class="qr" cx="312.8" cy="535.9" r="1.6"/>
<circle class="qr" cx="315.5" cy="535.9" r="1.6"/>
<circle class="qr" cx="318.2" cy="535.9" r="1.6"/>
<circle class="qr" cx="323.2" cy="535.9" r="1.6"/>
<circle class="qr" cx="328.9" cy="535.9" r="1.6"/>
<circle class="qr" cx="331.82" cy="535.9" r="1.6"/>
<circle class="qr" cx="334.74" cy="535.9" r="1.6"/>
<circle class="qr" cx="337.66" cy="535.9" r="1.6"/>
<circle class="qr" cx="340.58" cy="535.9" r="1.6"/>
<circle class="qr" cx="343.5" cy="535.9" r="1.6"/>
<circle class="qr" cx="350.5" cy="535.9" r="1.6"/>
<circle class="qr" cx="351.5" cy="535.9" r="1.6"/>
<circle class="qr" cx="368.5" cy="535.9" r="1.6"/>
<circle class="qr" cx="371.5" cy="535.9" r="1.6"/>
<circle class="qr" cx="378.1" cy="535.9" r="1.6"/>
<circle class="qr" cx="380.8" cy="535.9" r="1.6"/>
<circle class="qr" cx="387.7" cy="535.9" r="1.6"/>
<circle class="qr" cx="388.8" cy="535.9" r="1.6"/>
<circle class="qr" cx="395.3" cy="535.9" r="1.6"/>
<circle class="qr" cx="398.63" cy="535.9" r="1.6"/>
<circle class="qr" cx="401.97" cy="535.9" r="1.6"/>
<circle class="qr" cx="405.3" cy="535.9" r="1.6"/>
<circle class="qr" cx="415.3" cy="535.9" r="1.6"/>
<circle class="qr" cx="420.3" cy="535.9" r="1.6"/>
<circle class="qr" cx="423.0" cy="535.9" r="1.6"/>
<circle class="qr" cx="425.7" cy="535.9" r="1.6"/>
<circle class="qr" cx="426.8" cy="535.9" r="1.6"/>
<circle class="qr" cx="429.1" cy="535.9" r="1.6"/>
<circle class="qr" cx="432.2" cy="535.9" r="1.6"/>
<circle class="qr" cx="438.7" cy="535.9" r="1.6"/>
<circle class="qr" cx="441.4" cy="535.9" r="1.6"/>
<circle class="qr" cx="452.5" cy="535.9" r="1.6"/>
<circle class="qr" cx="461.8" cy="535.9" r="1.6"/>
<circle class="qr" cx="467.7" cy="535.9" r="1.6"/>
<circle class="qr" cx="493.1" cy="535.9" r="1.6"/>
<circle class="qr" cx="500.9" cy="535.9" r="1.6"/>
<circle class="qr" cx="64.2" cy="535.9" r="1.6"/>
<circle class="qr" cx="247.9" cy="535.9" r="1.6"/>
<circle class="qr" cx="420.8" cy="535.9" r="1.6"/>
<circle class="pr" cx="96.8" cy="326.4" r="1.6"/>
<circle class="pr" cx="103.2" cy="326.4" r="1.6"/>
<circle class="pr" cx="48.3" cy="465.9" r="1.6"/>
<circle class="pr" cx="76.3" cy="465.9" r="1.6"/>
<circle class="pr" cx="80.1" cy="465.9" r="1.6"/>
<circle class="pr" cx="139.7" cy="465.9" r="1.6"/>
<circle class="qr" cx="64.4" cy="535.9" r="1.6"/>
<circle class="qr" cx="155.9" cy="535.9" r="1.6"/>
<circle class="qr" cx="158.1" cy="535.9" r="1.6"/>
<circle class="qr" cx="160.3" cy="535.9" r="1.6"/>
<circle class="qr" cx="247.7" cy="535.9" r="1.6"/>
<circle class="qr" cx="249.9" cy="535.9" r="1.6"/>
<circle class="qr" cx="280.4" cy="535.9" r="1.6"/>
<circle class="qr" cx="311.9" cy="535.9" r="1.6"/>
<circle class="qr" cx="420.4" cy="535.9" r="1.6"/>
<circle class="qr" cx="100.9" cy="535.9" r="1.6"/>
<circle class="qr" cx="103.1" cy="535.9" r="1.6"/>
<circle class="qr" cx="105.3" cy="535.9" r="1.6"/>
</g>
<rect x="44.5" y="316.2" width="466.0" height="223.2" fill="none" stroke="#000" stroke-width="1.3"/>
<line x1="41" y1="529.20" x2="44.5" y2="529.20" stroke="#000" stroke-width="0.9"/>
<text x="38.3" y="532.20" font-size="8.3" text-anchor="end" class="t">0</text>
<line x1="41" y1="459.20" x2="44.5" y2="459.20" stroke="#000" stroke-width="0.9"/>
<text x="38.3" y="462.20" font-size="8.3" text-anchor="end" class="t">1</text>
<line x1="41" y1="389.20" x2="44.5" y2="389.20" stroke="#000" stroke-width="0.9"/>
<text x="38.3" y="392.20" font-size="8.3" text-anchor="end" class="t">2</text>
<line x1="41" y1="319.20" x2="44.5" y2="319.20" stroke="#000" stroke-width="0.9"/>
<text x="38.3" y="322.20" font-size="8.3" text-anchor="end" class="t">3</text>
<line x1="48.20" y1="539.4" x2="48.20" y2="542.4" stroke="#000" stroke-width="0.9"/>
<text x="48.20" y="552.80" font-size="8.6" text-anchor="middle" class="t">0</text>
<line x1="94.10" y1="539.4" x2="94.10" y2="542.4" stroke="#000" stroke-width="0.9"/>
<text x="94.10" y="552.80" font-size="8.6" text-anchor="middle" class="t">5</text>
<line x1="140.00" y1="539.4" x2="140.00" y2="542.4" stroke="#000" stroke-width="0.9"/>
<text x="140.00" y="552.80" font-size="8.6" text-anchor="middle" class="t">10</text>
<line x1="185.90" y1="539.4" x2="185.90" y2="542.4" stroke="#000" stroke-width="0.9"/>
<text x="185.90" y="552.80" font-size="8.6" text-anchor="middle" class="t">15</text>
<line x1="231.80" y1="539.4" x2="231.80" y2="542.4" stroke="#000" stroke-width="0.9"/>
<text x="231.80" y="552.80" font-size="8.6" text-anchor="middle" class="t">20</text>
<line x1="277.70" y1="539.4" x2="277.70" y2="542.4" stroke="#000" stroke-width="0.9"/>
<text x="277.70" y="552.80" font-size="8.6" text-anchor="middle" class="t">25</text>
<line x1="323.60" y1="539.4" x2="323.60" y2="542.4" stroke="#000" stroke-width="0.9"/>
<text x="323.60" y="552.80" font-size="8.6" text-anchor="middle" class="t">30</text>
<line x1="369.50" y1="539.4" x2="369.50" y2="542.4" stroke="#000" stroke-width="0.9"/>
<text x="369.50" y="552.80" font-size="8.6" text-anchor="middle" class="t">35</text>
<line x1="415.40" y1="539.4" x2="415.40" y2="542.4" stroke="#000" stroke-width="0.9"/>
<text x="415.40" y="552.80" font-size="8.6" text-anchor="middle" class="t">40</text>
<line x1="461.30" y1="539.4" x2="461.30" y2="542.4" stroke="#000" stroke-width="0.9"/>
<text x="461.30" y="552.80" font-size="8.6" text-anchor="middle" class="t">45</text>
<line x1="507.20" y1="539.4" x2="507.20" y2="542.4" stroke="#000" stroke-width="0.9"/>
<text x="507.20" y="552.80" font-size="8.6" text-anchor="middle" class="t">50</text>
<text x="244.8" y="310.50" font-size="10.1" textLength="64.6" lengthAdjust="spacingAndGlyphs" class="t">Study 270-301</text>
<text x="234.6" y="567.00" font-size="10.8" textLength="87.3" lengthAdjust="spacingAndGlyphs" class="t">Factor VIII activity (IU/dL)</text>
<text transform="translate(27.9,482.10) rotate(-90)" font-size="11" textLength="109.6" lengthAdjust="spacingAndGlyphs" class="t">Number of treated joint bleeds</text>
<text x="6.3" y="306.60" font-size="12.2" font-weight="bold" textLength="10.2" lengthAdjust="spacingAndGlyphs" fill="#000">B</text>
<circle cx="397.8" cy="328.0" r="1.5" fill="none" stroke="#465d98" stroke-width="0.75"/>
<circle cx="397.8" cy="340.7" r="1.5" fill="none" stroke="#c43556" stroke-width="0.75"/>
<text x="403.2" y="330.50" font-size="7.9" textLength="82.3" lengthAdjust="spacingAndGlyphs" class="tl">One-stage FVIII Activity</text>
<text x="403.2" y="343.20" font-size="7.9" textLength="93.5" lengthAdjust="spacingAndGlyphs" class="tl">Chromogenic FVIII Activity</text>
<rect x="0" y="0" width="520" height="1" fill="#000"/>
<rect x="0" y="0" width="1" height="577" fill="#000"/>
<rect x="519" y="0" width="1" height="577" fill="#000"/>
<rect x="0" y="575.4" width="520" height="1.6" fill="#000"/>
</svg></body></html>
